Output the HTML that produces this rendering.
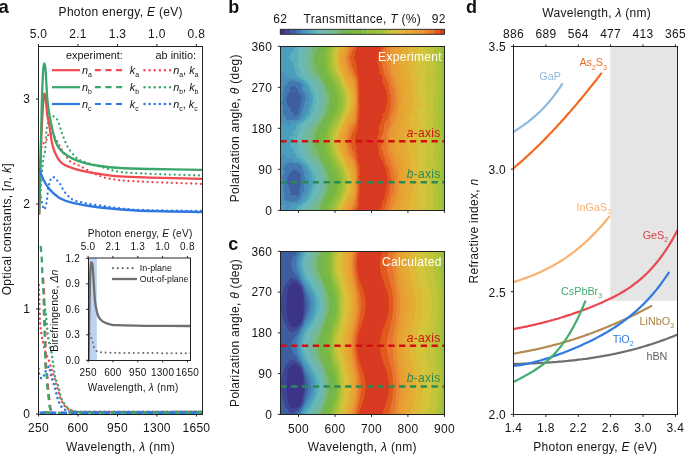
<!DOCTYPE html><html><head><meta charset="utf-8"><style>html,body{margin:0;padding:0;background:#fff;width:685px;height:455px;overflow:hidden}svg{display:block;will-change:transform}text{font-family:"Liberation Sans",sans-serif;letter-spacing:0.025em}</style></head><body>
<svg width="685" height="455" viewBox="0 0 685 455">
<rect width="685" height="455" fill="#fff"/>
<text x="-1.5" y="13.2" font-size="18.5" text-anchor="start" fill="#111" font-weight="bold" style="letter-spacing:0">a</text>
<text x="58.6" y="15.7" font-size="12" text-anchor="start" fill="#151515" font-weight="normal">Photon energy, <tspan font-style="italic">E</tspan> (eV)</text>
<text x="38.5" y="37.8" font-size="12" text-anchor="middle" fill="#151515" font-weight="normal">5.0</text>
<text x="38.5" y="431.8" font-size="12" text-anchor="middle" fill="#151515" font-weight="normal">250</text>
<line x1="38.5" y1="46.0" x2="38.5" y2="44.0" stroke="#222" stroke-width="1"/>
<line x1="38.5" y1="414.0" x2="38.5" y2="416.5" stroke="#222" stroke-width="1"/>
<text x="78.0" y="37.8" font-size="12" text-anchor="middle" fill="#151515" font-weight="normal">2.1</text>
<text x="78.0" y="431.8" font-size="12" text-anchor="middle" fill="#151515" font-weight="normal">600</text>
<line x1="78.0" y1="46.0" x2="78.0" y2="44.0" stroke="#222" stroke-width="1"/>
<line x1="78.0" y1="414.0" x2="78.0" y2="416.5" stroke="#222" stroke-width="1"/>
<text x="117.5" y="37.8" font-size="12" text-anchor="middle" fill="#151515" font-weight="normal">1.3</text>
<text x="117.5" y="431.8" font-size="12" text-anchor="middle" fill="#151515" font-weight="normal">950</text>
<line x1="117.5" y1="46.0" x2="117.5" y2="44.0" stroke="#222" stroke-width="1"/>
<line x1="117.5" y1="414.0" x2="117.5" y2="416.5" stroke="#222" stroke-width="1"/>
<text x="156.9" y="37.8" font-size="12" text-anchor="middle" fill="#151515" font-weight="normal">1.0</text>
<text x="156.9" y="431.8" font-size="12" text-anchor="middle" fill="#151515" font-weight="normal">1300</text>
<line x1="156.9" y1="46.0" x2="156.9" y2="44.0" stroke="#222" stroke-width="1"/>
<line x1="156.9" y1="414.0" x2="156.9" y2="416.5" stroke="#222" stroke-width="1"/>
<text x="196.4" y="37.8" font-size="12" text-anchor="middle" fill="#151515" font-weight="normal">0.8</text>
<text x="196.4" y="431.8" font-size="12" text-anchor="middle" fill="#151515" font-weight="normal">1650</text>
<line x1="196.4" y1="46.0" x2="196.4" y2="44.0" stroke="#222" stroke-width="1"/>
<line x1="196.4" y1="414.0" x2="196.4" y2="416.5" stroke="#222" stroke-width="1"/>
<text x="30.2" y="418.3" font-size="12" text-anchor="end" fill="#151515" font-weight="normal">0</text>
<line x1="36.0" y1="414.0" x2="38.5" y2="414.0" stroke="#222" stroke-width="1"/>
<text x="30.2" y="313.3" font-size="12" text-anchor="end" fill="#151515" font-weight="normal">1</text>
<line x1="36.0" y1="309.0" x2="38.5" y2="309.0" stroke="#222" stroke-width="1"/>
<text x="30.2" y="208.3" font-size="12" text-anchor="end" fill="#151515" font-weight="normal">2</text>
<line x1="36.0" y1="204.0" x2="38.5" y2="204.0" stroke="#222" stroke-width="1"/>
<text x="30.2" y="103.3" font-size="12" text-anchor="end" fill="#151515" font-weight="normal">3</text>
<line x1="36.0" y1="99.0" x2="38.5" y2="99.0" stroke="#222" stroke-width="1"/>
<text x="0" y="0" font-size="12" text-anchor="middle" fill="#151515" font-weight="normal" transform="translate(10.9,229.2) rotate(-90)">Optical constants, [<tspan font-style="italic">n</tspan>, <tspan font-style="italic">k</tspan>]</text>
<text x="120.5" y="451" font-size="12" text-anchor="middle" fill="#151515" font-weight="normal">Wavelength, <tspan font-style="italic">λ</tspan> (nm)</text>
<clipPath id="clipa"><rect x="38.5" y="46" width="164" height="368"/></clipPath>
<g clip-path="url(#clipa)">
<path d="M38.50,368.90 C38.58,369.62 38.60,371.67 39.00,373.20 C39.40,374.73 40.17,377.38 40.90,378.10 C41.63,378.82 42.78,378.32 43.40,377.50 C44.02,376.68 43.68,375.03 44.60,373.20 C45.52,371.37 47.98,366.80 48.90,366.50 C49.82,366.20 49.68,369.77 50.10,371.40 C50.52,373.03 50.98,374.67 51.40,376.30 C51.82,377.93 52.08,379.57 52.60,381.20 C53.12,382.83 53.98,384.45 54.50,386.10 C55.02,387.75 55.30,389.45 55.70,391.10 C56.10,392.75 56.50,394.47 56.90,396.00 C57.30,397.53 57.58,398.87 58.10,400.30 C58.62,401.73 59.28,403.37 60.00,404.60 C60.72,405.83 61.27,406.68 62.40,407.70 C63.53,408.72 65.20,409.98 66.80,410.70 C68.40,411.42 69.80,411.82 72.00,412.00 C74.20,412.18 57.00,411.83 80.00,411.80 C103.00,411.77 188.33,411.80 210.00,411.80" fill="none" stroke="#2f78e0" stroke-width="2.5" stroke-linecap="round" stroke-linejoin="round" stroke-dasharray="0.01 4.8"/>
<path d="M38.80,285.00 C38.88,287.50 39.13,294.50 39.30,300.00 C39.47,305.50 39.60,313.50 39.80,318.00 C40.00,322.50 40.22,324.33 40.50,327.00 C40.78,329.67 41.17,331.83 41.50,334.00 C41.83,336.17 42.17,338.33 42.50,340.00 C42.83,341.67 43.08,342.17 43.50,344.00 C43.92,345.83 44.42,349.00 45.00,351.00 C45.58,353.00 46.25,354.17 47.00,356.00 C47.75,357.83 48.83,360.00 49.50,362.00 C50.17,364.00 50.48,366.33 51.00,368.00 C51.52,369.67 52.10,370.50 52.60,372.00 C53.10,373.50 53.52,375.33 54.00,377.00 C54.48,378.67 55.00,380.33 55.50,382.00 C56.00,383.67 56.50,385.33 57.00,387.00 C57.50,388.67 58.00,390.33 58.50,392.00 C59.00,393.67 59.50,395.50 60.00,397.00 C60.50,398.50 60.92,399.83 61.50,401.00 C62.08,402.17 62.75,402.92 63.50,404.00 C64.25,405.08 64.92,406.50 66.00,407.50 C67.08,408.50 68.50,409.33 70.00,410.00 C71.50,410.67 73.00,411.17 75.00,411.50 C77.00,411.83 59.50,411.95 82.00,412.00 C104.50,412.05 188.67,411.83 210.00,411.80" fill="none" stroke="#ee4a50" stroke-width="2.5" stroke-linecap="round" stroke-linejoin="round" stroke-dasharray="0.01 4.8"/>
<path d="M44.00,300.00 C44.33,302.67 45.43,311.00 46.00,316.00 C46.57,321.00 47.10,326.87 47.40,330.00 C47.70,333.13 47.62,333.20 47.80,334.80 C47.98,336.40 48.22,337.98 48.50,339.60 C48.78,341.22 49.08,342.77 49.50,344.50 C49.92,346.23 50.62,348.42 51.00,350.00 C51.38,351.58 51.55,352.50 51.80,354.00 C52.05,355.50 52.27,357.33 52.50,359.00 C52.73,360.67 52.87,361.53 53.20,364.00 C53.53,366.47 54.08,371.33 54.50,373.80 C54.92,376.27 55.20,377.15 55.70,378.80 C56.20,380.45 56.98,382.07 57.50,383.70 C58.02,385.33 58.38,386.97 58.80,388.60 C59.22,390.23 59.60,391.87 60.00,393.50 C60.40,395.13 60.68,396.97 61.20,398.40 C61.72,399.83 62.48,401.07 63.10,402.10 C63.72,403.13 64.18,403.67 64.90,404.60 C65.62,405.53 66.38,406.78 67.40,407.70 C68.42,408.62 69.67,409.48 71.00,410.10 C72.33,410.72 73.65,411.08 75.40,411.40 C77.15,411.72 59.07,411.93 81.50,412.00 C103.93,412.07 188.58,411.83 210.00,411.80" fill="none" stroke="#3ba66b" stroke-width="2.5" stroke-linecap="round" stroke-linejoin="round" stroke-dasharray="0.01 4.8"/>
<clipPath id="clipka"><rect x="30" y="275" width="100" height="140"/></clipPath>
<path d="M41.30,246.00 C41.47,248.00 42.05,254.00 42.30,258.00 C42.55,262.00 42.63,266.00 42.80,270.00 C42.97,274.00 43.08,277.83 43.30,282.00 C43.52,286.17 43.88,289.50 44.10,295.00 C44.32,300.50 44.40,308.33 44.60,315.00 C44.80,321.67 45.10,328.33 45.30,335.00 C45.50,341.67 45.67,349.75 45.80,355.00 C45.93,360.25 45.85,362.95 46.10,366.50 C46.35,370.05 47.00,373.03 47.30,376.30 C47.60,379.57 47.60,382.62 47.90,386.10 C48.20,389.58 48.70,393.72 49.10,397.20 C49.50,400.68 49.78,404.60 50.30,407.00 C50.82,409.40 51.28,410.63 52.20,411.60 C53.12,412.57 29.37,412.60 55.80,412.80 C82.23,413.00 184.97,412.80 210.80,412.80" fill="none" stroke="#ee4a50" stroke-width="2.3" stroke-linecap="butt" stroke-linejoin="round" stroke-dasharray="6 4.6" clip-path="url(#clipka)"/>
<path d="M40.70,246.00 C40.87,248.00 41.45,254.00 41.70,258.00 C41.95,262.00 42.03,266.00 42.20,270.00 C42.37,274.00 42.48,277.83 42.70,282.00 C42.92,286.17 43.28,289.50 43.50,295.00 C43.72,300.50 43.80,308.33 44.00,315.00 C44.20,321.67 44.50,328.33 44.70,335.00 C44.90,341.67 45.07,349.75 45.20,355.00 C45.33,360.25 45.25,362.95 45.50,366.50 C45.75,370.05 46.40,373.03 46.70,376.30 C47.00,379.57 47.00,382.62 47.30,386.10 C47.60,389.58 48.10,393.72 48.50,397.20 C48.90,400.68 49.18,404.60 49.70,407.00 C50.22,409.40 50.68,410.63 51.60,411.60 C52.52,412.57 28.77,412.60 55.20,412.80 C81.63,413.00 184.37,412.80 210.20,412.80" fill="none" stroke="#3ba66b" stroke-width="2.3" stroke-linecap="butt" stroke-linejoin="round" stroke-dasharray="6 4.6"/>
<path d="M38.50,412.80 L210.00,412.80" fill="none" stroke="#2f78e0" stroke-width="2.4" stroke-linecap="butt" stroke-linejoin="round" stroke-dasharray="6 4.8" stroke-dashoffset="-1"/>
<path d="M38.60,214.00 C38.83,211.67 39.52,205.67 40.00,200.00 C40.48,194.33 40.92,187.00 41.50,180.00 C42.08,173.00 42.88,163.00 43.50,158.00 C44.12,153.00 44.75,154.17 45.20,150.00 C45.65,145.83 45.82,137.17 46.20,133.00 C46.58,128.83 46.87,127.50 47.50,125.00 C48.13,122.50 48.98,119.42 50.00,118.00 C51.02,116.58 52.30,116.08 53.60,116.50 C54.90,116.92 56.60,118.32 57.80,120.50 C59.00,122.68 59.77,126.58 60.80,129.60 C61.83,132.62 62.77,135.57 64.00,138.60 C65.23,141.63 66.42,144.90 68.20,147.80 C69.98,150.70 72.40,153.80 74.70,156.00 C77.00,158.20 77.78,159.25 82.00,161.00 C86.22,162.75 93.67,164.70 100.00,166.50 C106.33,168.30 111.67,170.58 120.00,171.80 C128.33,173.02 136.33,173.18 150.00,173.80 C163.67,174.42 193.33,175.22 202.00,175.50" fill="none" stroke="#3ba66b" stroke-width="2.3" stroke-linecap="round" stroke-linejoin="round" stroke-dasharray="0.01 4.8"/>
<path d="M38.60,205.00 C38.83,199.17 39.52,179.50 40.00,170.00 C40.48,160.50 40.88,152.50 41.50,148.00 C42.12,143.50 42.95,144.17 43.70,143.00 C44.45,141.83 45.08,142.67 46.00,141.00 C46.92,139.33 48.20,134.17 49.20,133.00 C50.20,131.83 51.12,133.33 52.00,134.00 C52.88,134.67 53.63,135.75 54.50,137.00 C55.37,138.25 56.28,139.92 57.20,141.50 C58.12,143.08 59.12,144.92 60.00,146.50 C60.88,148.08 61.50,149.42 62.50,151.00 C63.50,152.58 64.58,154.17 66.00,156.00 C67.42,157.83 68.67,160.33 71.00,162.00 C73.33,163.67 75.17,163.67 80.00,166.00 C84.83,168.33 93.33,173.63 100.00,176.00 C106.67,178.37 111.67,179.20 120.00,180.20 C128.33,181.20 136.33,181.38 150.00,182.00 C163.67,182.62 193.33,183.58 202.00,183.90" fill="none" stroke="#ee4a50" stroke-width="2.3" stroke-linecap="round" stroke-linejoin="round" stroke-dasharray="0.01 4.8"/>
<path d="M38.80,188.00 C39.10,189.25 40.02,192.83 40.60,195.50 C41.18,198.17 41.70,201.67 42.30,204.00 C42.90,206.33 43.58,209.37 44.20,209.50 C44.82,209.63 45.53,206.38 46.00,204.80 C46.47,203.22 46.70,202.13 47.00,200.00 C47.30,197.87 47.50,194.33 47.80,192.00 C48.10,189.67 48.43,187.83 48.80,186.00 C49.17,184.17 49.42,182.50 50.00,181.00 C50.58,179.50 51.47,177.47 52.30,177.00 C53.13,176.53 54.22,177.65 55.00,178.20 C55.78,178.75 56.17,179.42 57.00,180.30 C57.83,181.18 59.08,182.13 60.00,183.50 C60.92,184.87 61.62,186.95 62.50,188.50 C63.38,190.05 64.22,191.42 65.30,192.80 C66.38,194.18 67.78,195.68 69.00,196.80 C70.22,197.92 70.77,198.63 72.60,199.50 C74.43,200.37 75.43,201.00 80.00,202.00 C84.57,203.00 90.67,204.22 100.00,205.50 C109.33,206.78 119.00,208.78 136.00,209.70 C153.00,210.62 191.00,210.78 202.00,211.00" fill="none" stroke="#2f78e0" stroke-width="2.3" stroke-linecap="round" stroke-linejoin="round" stroke-dasharray="0.01 4.8"/>
<path d="M39.20,214.50 C39.38,207.08 39.97,182.42 40.30,170.00 C40.63,157.58 40.82,149.67 41.20,140.00 C41.58,130.33 42.22,118.83 42.60,112.00 C42.98,105.17 43.18,102.08 43.50,99.00 C43.82,95.92 44.13,93.50 44.50,93.50 C44.87,93.50 45.23,95.42 45.70,99.00 C46.17,102.58 46.70,110.67 47.30,115.00 C47.90,119.33 48.53,120.40 49.30,125.00 C50.07,129.60 51.03,138.20 51.90,142.60 C52.77,147.00 53.32,148.50 54.50,151.40 C55.68,154.30 57.30,157.73 59.00,160.00 C60.70,162.27 61.20,163.28 64.70,165.00 C68.20,166.72 74.12,168.80 80.00,170.30 C85.88,171.80 93.33,172.98 100.00,174.00 C106.67,175.02 111.67,175.80 120.00,176.40 C128.33,177.00 136.33,177.18 150.00,177.60 C163.67,178.02 193.33,178.68 202.00,178.90" fill="none" stroke="#ee4a50" stroke-width="2.3" stroke-linecap="butt" stroke-linejoin="round"/>
<path d="M39.20,214.50 C39.38,207.08 40.00,182.42 40.30,170.00 C40.60,157.58 40.73,151.67 41.00,140.00 C41.27,128.33 41.53,111.67 41.90,100.00 C42.27,88.33 42.78,76.08 43.20,70.00 C43.62,63.92 44.00,63.50 44.40,63.50 C44.80,63.50 45.10,63.92 45.60,70.00 C46.10,76.08 46.70,92.17 47.40,100.00 C48.10,107.83 48.95,112.00 49.80,117.00 C50.65,122.00 51.57,126.00 52.50,130.00 C53.43,134.00 54.32,138.00 55.40,141.00 C56.48,144.00 57.73,146.08 59.00,148.00 C60.27,149.92 60.82,150.77 63.00,152.50 C65.18,154.23 68.60,156.68 72.10,158.40 C75.60,160.12 79.35,161.53 84.00,162.80 C88.65,164.07 94.00,165.13 100.00,166.00 C106.00,166.87 111.67,167.50 120.00,168.00 C128.33,168.50 136.33,168.68 150.00,169.00 C163.67,169.32 193.33,169.75 202.00,169.90" fill="none" stroke="#3ba66b" stroke-width="2.3" stroke-linecap="butt" stroke-linejoin="round"/>
<path d="M38.60,168.50 C38.72,168.65 38.60,167.78 39.30,169.40 C40.00,171.02 41.48,175.42 42.80,178.20 C44.12,180.98 45.73,183.90 47.20,186.10 C48.67,188.30 49.40,189.35 51.60,191.40 C53.80,193.45 56.88,196.50 60.40,198.40 C63.92,200.30 66.10,201.28 72.70,202.80 C79.30,204.32 89.45,206.22 100.00,207.50 C110.55,208.78 119.00,209.75 136.00,210.50 C153.00,211.25 191.00,211.75 202.00,212.00" fill="none" stroke="#2f78e0" stroke-width="2.3" stroke-linecap="butt" stroke-linejoin="round"/>
</g>
<rect x="38.5" y="46.5" width="164" height="368" fill="none" stroke="#222" stroke-width="1"/>
<line x1="52" y1="70.2" x2="80" y2="70.2" stroke="#ee4a50" stroke-width="2.2"/>
<line x1="94.9" y1="70.2" x2="122.5" y2="70.2" stroke="#ee4a50" stroke-width="2.2" stroke-dasharray="6 4.6"/>
<line x1="144.5" y1="70.2" x2="170.6" y2="70.2" stroke="#ee4a50" stroke-width="2.5" stroke-dasharray="0.01 5.1" stroke-linecap="round"/>
<text x="82" y="73.8" font-size="10.9" text-anchor="start" fill="#151515" font-weight="normal" style="letter-spacing:0"><tspan font-style="italic">n</tspan><tspan font-size="6.9" dy="3">a</tspan></text>
<text x="129.7" y="73.8" font-size="10.9" text-anchor="start" fill="#151515" font-weight="normal" style="letter-spacing:0"><tspan font-style="italic">k</tspan><tspan font-size="6.9" dy="3">a</tspan></text>
<text x="173.2" y="73.8" font-size="10.9" text-anchor="start" fill="#151515" font-weight="normal" style="letter-spacing:0"><tspan font-style="italic">n</tspan><tspan font-size="6.9" dy="3">a</tspan><tspan dy="-3">, </tspan><tspan font-style="italic">k</tspan><tspan font-size="6.9" dy="3">a</tspan></text>
<line x1="52" y1="87.2" x2="80" y2="87.2" stroke="#3ba66b" stroke-width="2.2"/>
<line x1="94.9" y1="87.2" x2="122.5" y2="87.2" stroke="#3ba66b" stroke-width="2.2" stroke-dasharray="6 4.6"/>
<line x1="144.5" y1="87.2" x2="170.6" y2="87.2" stroke="#3ba66b" stroke-width="2.5" stroke-dasharray="0.01 5.1" stroke-linecap="round"/>
<text x="82" y="90.8" font-size="10.9" text-anchor="start" fill="#151515" font-weight="normal" style="letter-spacing:0"><tspan font-style="italic">n</tspan><tspan font-size="6.9" dy="3">b</tspan></text>
<text x="129.7" y="90.8" font-size="10.9" text-anchor="start" fill="#151515" font-weight="normal" style="letter-spacing:0"><tspan font-style="italic">k</tspan><tspan font-size="6.9" dy="3">b</tspan></text>
<text x="173.2" y="90.8" font-size="10.9" text-anchor="start" fill="#151515" font-weight="normal" style="letter-spacing:0"><tspan font-style="italic">n</tspan><tspan font-size="6.9" dy="3">b</tspan><tspan dy="-3">, </tspan><tspan font-style="italic">k</tspan><tspan font-size="6.9" dy="3">b</tspan></text>
<line x1="52" y1="104" x2="80" y2="104" stroke="#2f78e0" stroke-width="2.2"/>
<line x1="94.9" y1="104" x2="122.5" y2="104" stroke="#2f78e0" stroke-width="2.2" stroke-dasharray="6 4.6"/>
<line x1="144.5" y1="104" x2="170.6" y2="104" stroke="#2f78e0" stroke-width="2.5" stroke-dasharray="0.01 5.1" stroke-linecap="round"/>
<text x="82" y="107.6" font-size="10.9" text-anchor="start" fill="#151515" font-weight="normal" style="letter-spacing:0"><tspan font-style="italic">n</tspan><tspan font-size="6.9" dy="3">c</tspan></text>
<text x="129.7" y="107.6" font-size="10.9" text-anchor="start" fill="#151515" font-weight="normal" style="letter-spacing:0"><tspan font-style="italic">k</tspan><tspan font-size="6.9" dy="3">c</tspan></text>
<text x="173.2" y="107.6" font-size="10.9" text-anchor="start" fill="#151515" font-weight="normal" style="letter-spacing:0"><tspan font-style="italic">n</tspan><tspan font-size="6.9" dy="3">c</tspan><tspan dy="-3">, </tspan><tspan font-style="italic">k</tspan><tspan font-size="6.9" dy="3">c</tspan></text>
<text x="66" y="59.4" font-size="10.9" text-anchor="start" fill="#151515" font-weight="normal" style="letter-spacing:0">experiment:</text>
<text x="155.5" y="59.4" font-size="10.9" text-anchor="start" fill="#151515" font-weight="normal" style="letter-spacing:0">ab initio:</text>
<rect x="88.1" y="257.9" width="102.20000000000002" height="102.40000000000003" fill="#fff"/>
<rect x="88.1" y="257.9" width="8.7" height="102.40000000000003" fill="#bcd3f2"/>
<text x="87.8" y="236.7" font-size="10.15" text-anchor="start" fill="#151515" font-weight="normal">Photon energy, <tspan font-style="italic">E</tspan> (eV)</text>
<text x="88.1" y="250.1" font-size="10" text-anchor="middle" fill="#151515" font-weight="normal">5.0</text>
<text x="88.1" y="376.2" font-size="10" text-anchor="middle" fill="#151515" font-weight="normal">250</text>
<line x1="88.1" y1="257.9" x2="88.1" y2="255.89999999999998" stroke="#222" stroke-width="1"/>
<line x1="88.1" y1="360.3" x2="88.1" y2="362.3" stroke="#222" stroke-width="1"/>
<text x="112.9" y="250.1" font-size="10" text-anchor="middle" fill="#151515" font-weight="normal">2.1</text>
<text x="112.9" y="376.2" font-size="10" text-anchor="middle" fill="#151515" font-weight="normal">600</text>
<line x1="112.9" y1="257.9" x2="112.9" y2="255.89999999999998" stroke="#222" stroke-width="1"/>
<line x1="112.9" y1="360.3" x2="112.9" y2="362.3" stroke="#222" stroke-width="1"/>
<text x="137.8" y="250.1" font-size="10" text-anchor="middle" fill="#151515" font-weight="normal">1.3</text>
<text x="137.8" y="376.2" font-size="10" text-anchor="middle" fill="#151515" font-weight="normal">950</text>
<line x1="137.8" y1="257.9" x2="137.8" y2="255.89999999999998" stroke="#222" stroke-width="1"/>
<line x1="137.8" y1="360.3" x2="137.8" y2="362.3" stroke="#222" stroke-width="1"/>
<text x="162.6" y="250.1" font-size="10" text-anchor="middle" fill="#151515" font-weight="normal">1.0</text>
<text x="162.6" y="376.2" font-size="10" text-anchor="middle" fill="#151515" font-weight="normal">1300</text>
<line x1="162.6" y1="257.9" x2="162.6" y2="255.89999999999998" stroke="#222" stroke-width="1"/>
<line x1="162.6" y1="360.3" x2="162.6" y2="362.3" stroke="#222" stroke-width="1"/>
<text x="187.4" y="250.1" font-size="10" text-anchor="middle" fill="#151515" font-weight="normal">0.8</text>
<text x="187.4" y="376.2" font-size="10" text-anchor="middle" fill="#151515" font-weight="normal">1650</text>
<line x1="187.4" y1="257.9" x2="187.4" y2="255.89999999999998" stroke="#222" stroke-width="1"/>
<line x1="187.4" y1="360.3" x2="187.4" y2="362.3" stroke="#222" stroke-width="1"/>
<text x="80.2" y="363.9" font-size="10" text-anchor="end" fill="#151515" font-weight="normal">0.0</text>
<line x1="86.1" y1="360.3" x2="88.1" y2="360.3" stroke="#222" stroke-width="1"/>
<text x="80.2" y="338.4" font-size="10" text-anchor="end" fill="#151515" font-weight="normal">0.3</text>
<line x1="86.1" y1="334.8" x2="88.1" y2="334.8" stroke="#222" stroke-width="1"/>
<text x="80.2" y="312.9" font-size="10" text-anchor="end" fill="#151515" font-weight="normal">0.6</text>
<line x1="86.1" y1="309.3" x2="88.1" y2="309.3" stroke="#222" stroke-width="1"/>
<text x="80.2" y="287.4" font-size="10" text-anchor="end" fill="#151515" font-weight="normal">0.9</text>
<line x1="86.1" y1="283.8" x2="88.1" y2="283.8" stroke="#222" stroke-width="1"/>
<text x="80.2" y="261.9" font-size="10" text-anchor="end" fill="#151515" font-weight="normal">1.2</text>
<line x1="86.1" y1="258.3" x2="88.1" y2="258.3" stroke="#222" stroke-width="1"/>
<text x="0" y="0" font-size="10.5" text-anchor="middle" fill="#151515" font-weight="normal" transform="translate(57.9,310.6) rotate(-90)" style="letter-spacing:0.1px">Birefringence, <tspan font-style="italic">Δn</tspan></text>
<text x="133.2" y="391" font-size="10" text-anchor="middle" fill="#151515" font-weight="normal">Wavelength, <tspan font-style="italic">λ</tspan> (nm)</text>
<clipPath id="clipi"><rect x="88.1" y="257.9" width="102.2" height="102.4"/></clipPath>
<g clip-path="url(#clipi)">
<path d="M88.60,360.00 C88.63,357.50 88.73,349.50 88.80,345.00 C88.87,340.50 88.63,334.33 89.00,333.00 C89.37,331.67 90.42,335.50 91.00,337.00 C91.58,338.50 92.00,340.33 92.50,342.00 C93.00,343.67 93.42,345.58 94.00,347.00 C94.58,348.42 95.33,349.73 96.00,350.50 C96.67,351.27 97.17,351.32 98.00,351.60 C98.83,351.88 99.50,352.03 101.00,352.20 C102.50,352.37 102.17,352.47 107.00,352.60 C111.83,352.73 116.00,352.90 130.00,353.00 C144.00,353.10 180.83,353.17 191.00,353.20" fill="none" stroke="#6f6f6f" stroke-width="2.0" stroke-linecap="round" stroke-linejoin="round" stroke-dasharray="0.1 4.6"/>
<path d="M88.60,360.00 C88.70,353.33 88.97,333.33 89.20,320.00 C89.43,306.67 89.73,289.17 90.00,280.00 C90.27,270.83 90.52,267.92 90.80,265.00 C91.08,262.08 91.40,262.33 91.70,262.50 C92.00,262.67 92.28,263.08 92.60,266.00 C92.92,268.92 93.22,274.33 93.60,280.00 C93.98,285.67 94.42,295.00 94.90,300.00 C95.38,305.00 95.95,307.33 96.50,310.00 C97.05,312.67 97.45,314.33 98.20,316.00 C98.95,317.67 99.90,318.92 101.00,320.00 C102.10,321.08 103.30,321.78 104.80,322.50 C106.30,323.22 107.80,323.85 110.00,324.30 C112.20,324.75 112.17,324.95 118.00,325.20 C123.83,325.45 132.83,325.67 145.00,325.80 C157.17,325.93 183.33,325.97 191.00,326.00" fill="none" stroke="#6f6f6f" stroke-width="2.3" stroke-linecap="butt" stroke-linejoin="round"/>
</g>
<rect x="88.5" y="258" width="102" height="102.5" fill="none" stroke="#222" stroke-width="1"/>
<line x1="112.9" y1="268.2" x2="133.2" y2="268.2" stroke="#6f6f6f" stroke-width="2.2" stroke-dasharray="0.01 4.92" stroke-linecap="round"/>
<line x1="112" y1="279" x2="137" y2="279" stroke="#6f6f6f" stroke-width="2.3"/>
<text x="139.8" y="271.1" font-size="8.9" text-anchor="start" fill="#151515" font-weight="normal" style="letter-spacing:0">In-plane</text>
<text x="139.8" y="282.3" font-size="8.75" text-anchor="start" fill="#151515" font-weight="normal" style="letter-spacing:0">Out-of-plane</text>
<text x="228.3" y="12.8" font-size="18" text-anchor="start" fill="#111" font-weight="bold" style="letter-spacing:0">b</text>
<text x="228.3" y="250.4" font-size="18" text-anchor="start" fill="#111" font-weight="bold" style="letter-spacing:0">c</text>
<text x="280.3" y="22.6" font-size="12" text-anchor="middle" fill="#151515" font-weight="normal">62</text>
<text x="438.8" y="22.6" font-size="12" text-anchor="middle" fill="#151515" font-weight="normal">92</text>
<text x="362.3" y="22.6" font-size="12" text-anchor="middle" fill="#151515" font-weight="normal">Transmittance, <tspan font-style="italic">T</tspan> (%)</text>
<rect x="280.30" y="29.3" width="5.42" height="4.9999999999999964" fill="#3c3488"/>
<rect x="285.43" y="29.3" width="5.42" height="4.9999999999999964" fill="#3e4694"/>
<rect x="290.55" y="29.3" width="5.42" height="4.9999999999999964" fill="#3f5ea0"/>
<rect x="295.68" y="29.3" width="5.42" height="4.9999999999999964" fill="#4278b0"/>
<rect x="300.80" y="29.3" width="5.42" height="4.9999999999999964" fill="#4a90b8"/>
<rect x="305.93" y="29.3" width="5.42" height="4.9999999999999964" fill="#4aa0bc"/>
<rect x="311.05" y="29.3" width="5.42" height="4.9999999999999964" fill="#5ab0bc"/>
<rect x="316.18" y="29.3" width="5.42" height="4.9999999999999964" fill="#6cbab8"/>
<rect x="321.30" y="29.3" width="5.42" height="4.9999999999999964" fill="#6cb8b0"/>
<rect x="326.43" y="29.3" width="5.42" height="4.9999999999999964" fill="#72b8a0"/>
<rect x="331.55" y="29.3" width="5.42" height="4.9999999999999964" fill="#76b890"/>
<rect x="336.68" y="29.3" width="5.42" height="4.9999999999999964" fill="#78b870"/>
<rect x="341.80" y="29.3" width="5.42" height="4.9999999999999964" fill="#74b450"/>
<rect x="346.93" y="29.3" width="5.42" height="4.9999999999999964" fill="#72b84a"/>
<rect x="352.05" y="29.3" width="5.42" height="4.9999999999999964" fill="#78b844"/>
<rect x="357.18" y="29.3" width="5.42" height="4.9999999999999964" fill="#7cb840"/>
<rect x="362.30" y="29.3" width="5.42" height="4.9999999999999964" fill="#8abc3e"/>
<rect x="367.43" y="29.3" width="5.42" height="4.9999999999999964" fill="#90bd3e"/>
<rect x="372.55" y="29.3" width="5.42" height="4.9999999999999964" fill="#98c03e"/>
<rect x="377.68" y="29.3" width="5.42" height="4.9999999999999964" fill="#a4c23a"/>
<rect x="382.80" y="29.3" width="5.42" height="4.9999999999999964" fill="#b4c238"/>
<rect x="387.93" y="29.3" width="5.42" height="4.9999999999999964" fill="#c4c43a"/>
<rect x="393.05" y="29.3" width="5.42" height="4.9999999999999964" fill="#d4c43a"/>
<rect x="398.18" y="29.3" width="5.42" height="4.9999999999999964" fill="#e0b838"/>
<rect x="403.30" y="29.3" width="5.42" height="4.9999999999999964" fill="#e4ac34"/>
<rect x="408.43" y="29.3" width="5.42" height="4.9999999999999964" fill="#e6a834"/>
<rect x="413.55" y="29.3" width="5.42" height="4.9999999999999964" fill="#e8a030"/>
<rect x="418.68" y="29.3" width="5.42" height="4.9999999999999964" fill="#e89a34"/>
<rect x="423.80" y="29.3" width="5.42" height="4.9999999999999964" fill="#e88a30"/>
<rect x="428.93" y="29.3" width="5.42" height="4.9999999999999964" fill="#e87430"/>
<rect x="434.05" y="29.3" width="5.42" height="4.9999999999999964" fill="#e05a1c"/>
<rect x="439.18" y="29.3" width="5.42" height="4.9999999999999964" fill="#d83a22"/>
<rect x="280.3" y="29.3" width="164.1" height="4.9999999999999964" fill="none" stroke="#222" stroke-width="0.9"/>
<clipPath id="clipb"><rect x="280.3" y="46.3" width="164.1" height="164.0"/></clipPath>
<g clip-path="url(#clipb)">
<rect x="280.3" y="46.3" width="164.09999999999997" height="164.0" fill="#3c3488"/>
<path fill-rule="evenodd" fill="#3e4694" d="M280.3 44.1l166.3 0 0 168.4-168.5 0 0-168.4 2.2 0z"/>
<path fill-rule="evenodd" fill="#3f5ea0" d="M280.3 44.1l166.3 0 0 168.4-168.5 0 0-168.4 2.2 0z"/>
<path fill-rule="evenodd" fill="#4278b0" d="M280.3 44.1l166.3 0 0 168.4-168.5 0 0-168.4 2.2 0zM291.8 86.2l-1.9 2.2 0.6 2.2-1 2.2-2.1 2.3-1.5 4.4 1.3 2.2-0.2 2.2 2.2 3.8 2.4 0.7-1.6 2.2 1.4 1.9 2.2-1.7 0.9 2-1.7 2.2 0.8 0.3 2.3-0.3 2.2-1.2 0.7-1 0.6-2.2-0.1-2.2 1.3-2.3-0.6-2.2 1.7-4.4-0.6-2.2 0.2-2.2-3.9-4.5 0-2.2-3.8-2.7-1.8 0.5zM292.6 170.4l-1.2 0.9-2.5 3.5-1.9 4.5 0.4 2.2-0.7 2.2 2.4 2.2 1.4 4.4 0.5 2.3-1.5 2.2 1.9 0.8 2.2-1 4.5 1.4 1.1-1.2-0.3-4.5 1.5-2.2-0.2-2.2 0.9-4.4-1-2.2 0.8-2.3-0.2-2.2-2.6-3.5-2.3-1.4-2.2-0.9-1 1.4zM293.6 89l1.1 1.6-1.1 0.6-1.3-0.6 1.3-1.6z"/>
<path fill-rule="evenodd" fill="#4a90b8" d="M280.3 44.1l166.3 0 0 168.4-168.5 0 0-168.4 2.2 0zM288.3 81.8l-1.3 3.1-2.2 0.5-0.7 0.8-0.6 2.2 0.3 2.2-1.2 4.5 0.5 2.2-0.2 2.2-1.2 2.2-0.1 2.2 1.7 2.2-0.7 6.7 3.2 4.4 1.2 3 6.6-0.4 2.2 0.5 2.6-0.9 1.4-2.2 2.1-4.4 1.1-4.4 1.5-2.3-0.7-2.2 1.9-4.4-0.5-4.4-3.7-6.7 1.2-2.2-0.2-0.6-2.2-2.7-2.2-1.1-2.3 0-4.4-1.3-3.1 1.3zM287.3 163.8l-0.3 0.5-2.2 0.4-1.5 3.5 1.2 2.2-0.2 2.2-0.7 2.2-1.8 2.2 1.7 4.5-1 1.9-0.6 0.3 0.6 0.4 0.7 1.8 0.4 2.2-0.3 2.2 1.2 6.7-0.2 2.2 2.7 2.3 2.2-0.4 2.2 0.7 4.6-0.4 4.3-2.7 1.7-3.9 0-2.2 2.6-2.3-1.1-2.2 1.5-6.6 0.1-2.2-1.5-4.5 0.1-2.2-1.2-2.2-0.8-4.4-2.2-2.2-1.4-0.6-4.5 0.2-2.2-0.8-2.2 0.1-1.9 1.1z"/>
<path fill-rule="evenodd" fill="#4aa0bc" d="M280.3 45.8l2.2 1-0.6-2.7 164.7 0 0 168.4-168.5 0 0-7.3 4.4-0.8 2.3 0.4 2 1.1-3.6 2.2 3.8 2.1 2.6-2.1 3.6-4.5 2.6-0.7 4.5-0.2 1.7-1.3 0.5-1.3 4.2-5.3 1.8-4.5 0.9-4.4-0.6-4.4 0.5-2.2-2.6-2.3 1.3-4.4-1.8-2.2-1.1-4.4-2.4-2.2-4.6-2.1-2.3-0.2-2.2-1.2-2.2-2.2-6.6-0.7 1.3-2.5-1.3-1.6-3.5 3.8-1 2.2-2.2 1 0-37.9 2.2-1.1 0.9 0.4-1.5 2.2 0.6 0.3 2.2 0.2 2.3-1.3 1.8 0.8 0.8 2.2 1.8 1.1 0.6-1.1 0.1-2.2 3.7-1.4 2.2 0 6.4-3.1 0.6-2.2 4.4-6.6 1.6-4.5-0.3-2.2 1.4-4.4-0.8-2.2 0.6-2.2-0.6-1.8-2.5-2.7-1-4.4-3.1-4.4-4.4-2.4-2.3-0.1-4.4-1.5-2.2 0-1-0.5-3.8-2.2 0.9-2.2-0.5-0.7-2.7 0.7-0.5 2.2-3.5 3.5 0-34.5 1.5 0 0.7 1.7zM279.9 208.1l0.4 0.4 1.1-0.4-1.1-1.2-0.4 1.2zM279.1 201.4l-1 1 0-1.8 1 0.8zM289.2 203.5l0.8 0.1-0.8 1.6-0.7-1.6 0.7-0.1z"/>
<path fill-rule="evenodd" fill="#5ab0bc" d="M298.1 44.1l148.5 0 0 168.4-152.6 0 4.1-6.4 2.2-1 2.2-2.3 3-1.4 3.1-4.4 1.6-4.4 1.4-2.3-0.1-2.2 1-2.2 0.3-6.6-1-2.3-0.4-4.4-3.1-4.4-0.3-2.2-1.1-0.6-2.2-3.1-2.3-0.8-2.1-2.2-4.4-2.2 0.1-2.2-1.7-2.2-0.4-4.5-2.5-0.4-1.5-4 2.3-2.2 0.5-2.2-1.3-1.7-2.3-0.5 0.1-0.4 4.4-1.1 0.4-0.8-0.4-0.5-2-1.7 2-0.7 1.7-1.5 0.9-2.2-0.8-2.2 2.7-1.6 2.2-2.6 2.2-0.4 2.5-2.1 1.9-2.9 2.2-1.1 1.5-7 2.5-6.7 0-2.2-1.4-6.7-1.6-2.2-0.1-2.2-1.6-2.2-0.4-2.2-1.1-1.2-8-5.5-2.3-2.2-3.5-11.1 0.7-2.2-0.2-0.4-2.2 0-3.1-4 3.3-4.4 2.4-2.3 0.2-2.2 1.6-2.2 0.5-2.2 1.8 0z"/>
<path fill-rule="evenodd" fill="#6cbab8" d="M302.5 44.1l144.1 0 0 168.4-146.8 0 1.5-4.4 1.2-1.9 2.3-2.6 3.9-2.2 2.7-4.1 3.5-9.2 2-2.2-0.7-2.2 0.3-2.2-0.7-5.5-1.8-3.4-0.3-2.2-2.6-2.2-0.4-2.2-1.6-2.4-7.4-6.5-0.5-2.2-1.5-2.2 0.2-2.2-2.2-2.3 0.4-1.5 2.2-0.8-2.2-0.4-0.1-3.9-1.7-2.2 2.3-4.5-0.2-2.2 1.9-1.3 0.3-0.9 0-4.4 4.2-4.4 4.3-2.7 1.4-1.8 0.9-2.8 2.8-3.8-0.2-2.2 0.5-2.3 2-2.2 0.4-2.2-2.4-6.6 0.5-2.3-2.2-2.2-0.2-2.2-0.9-2.2-2.6-4.1-3.4-2.5-4-4.5-1.5-4.4 0.1-2.2-2.2-1.4-0.4-0.8 0.2-6.7 0.9-2.2-0.9-4.4 1.1-2.3 0.1-2.2 1.2-1.1 1.5-3.3 0.7 0z"/>
<path fill-rule="evenodd" fill="#6cb8b0" d="M306.9 44.1l139.7 0 0 168.4-143.1 0 1-4.4 2.4-3.5 6.7-5 1.1-2.6 3.3-4.4 1.5-6.7-0.7-2.2 0.7-2.2-1.5-2.2-0.3-4.5-1.9-5.4-1.7-3.4-2.7-2.2-6.7-7.3-1.7-3.8 0-4.5-0.8-2.2-0.6-4.4 0.6-2.2-0.5-2.2 2-8.9 1-2.2 2.2-3.4 4.5-3.1 5.9-9 0.9-2.2-0.1-2.3 1.2-2.2 0.2-2.2-1.3-4.4 0.6-4.5-0.8-1.5-2.2-0.7-0.6-4.4-1.6-2.2-2.2-1.5-4.6-5.2-2.6-4.4-0.9-4.4-1.6-4.5 0.8-8.8-0.4-4.5 0.4-2.1 2.2-0.8 1-3.7 1.2 0z"/>
<path fill-rule="evenodd" fill="#72b8a0" d="M309.1 44.3l137.5-0.2 0 168.4-139.5 0 0.6-4.4 6.8-6.7 4.4-6.6 2.3-6.7 0.7-6.6-1.2-8.9-2-2.2 0-2.2-7.9-8.9-1.2-2.2-2.3-2.2-3.3-11.1 1.6-4.4-0.6-2.2-0.1-2.3 0.7-4.4 1.3-3.3 0.5-1.1 4-3.1 6.6-8 2.1-4.4 1.2-4.5 1.2-2.2-1-4.4 0.3-2.2-0.6-4.5-1.5-2.2-2.5-6.6-1.7-2.2-4.1-2-2.8-4.7-1.8-2.2-0.8-2.2 0.2-4.4-1.4-4.5 0.4-4.4-0.5-2.2 2.2-7.8 2.2-3.1z"/>
<path fill-rule="evenodd" fill="#76b890" d="M311.4 45.4l0.8-1.3 134.4 0 0 168.4-137 0 1.8-3.8 2.2-2.1 1.5-3 4.6-4.4 1.2-4.4 2.3-4.5 0.9-11-1.7-8.9-5.3-8.9-3.5-3-2.9-3.6-2.2-4.4-1.4-6.7 1.3-2.2-0.8-6.7 2.1-4.4 0.4-2.2 1.7-2.2 1.8-1 4.9-5.7 0.5-2.2 1.7-2.2 1.7-4.2 1.7-6.9 0.2-6.6-3.9-13.3-2.4-3.5-4.3-3.2-2.3-4.7-2.4-1.9 0.2-2.2-1.2-4.5 0-4.4-0.4-2.2 0.2-2.2 1.1-2.2 0.9-4.5 1.6-3.1z"/>
<path fill-rule="evenodd" fill="#78b870" d="M315.8 45.5l0.4-1.4 130.4 0 0 168.4-133.7 0 3.8-4.4 0.9-2.2 2.6-3.2 1.7-3.5 1.2-4.4 3.2-6.7 0.3-6.6-0.4-4.5-1.2-2.2-0.3-4.4-1.6-2.2-2.9-6.7-1.4-2.2-2.5-2.2-0.5-1-2.3-1.2-1-4.4-1.6-2.3 0.3-4.4-0.4-4.4 0.4-4.5 8.2-13.2 1.9-4.5 2.9-4.4 0.5-3.8 2-5.1 0.5-6.6-2.6-6.7-0.3-2.2-4.1-8.8-2.2-3.1-2.1-1.4-0.7-2.2-1.6-0.9-0.8-1.3-0.3-2.2-1.5-2.2-0.5-6.7 1.8-6.6-0.4-2.3 1.7-3.6 2.2-1.6z"/>
<path fill-rule="evenodd" fill="#74b450" d="M320.2 44.1l126.4 0 0 168.4-129.3 0 2.2-2.2 0.3-2.2 8.8-20 0-2.2 1.1-2.2 0.6-4.4-2.5-4.5-0.3-2.2-3.4-6.6-1.6-4.5-2.9-4.4-3.3-8.9-2.3-2.2 0.1-2.2 0.8-2.2-0.4-2.2 0.8-2.2 0.1-4.5 1.9-2.2 0.7-2.2 7.9-13.3 3.3-8.9-0.2-4.4 0.9-4.4-0.7-4.5-1.8-2.2-2.2-4.4-0.2-2.2-1.9-2.2-4.2-8.9-3.3-4.4 0.2-4.5-2.3-2.2 0.1-2.2 0.9-2.2-0.1-2.2 1.5-2.2 0.6-4.5 2.4-2.2 0.6-2.2 0.7 0z"/>
<path fill-rule="evenodd" fill="#72b84a" d="M322.4 44.1l124.2 0 0 168.4-127 0 1.9-2.2 3.4-8.9 2-3.1 3.7-8 1.4-4.4-0.4-2.2 0.9-2.2-0.6-4.5-8.5-17.7-3.2-8.7-2.8-4.6 0.7-2.2 0.3-8.9 1.8-3.4 2.8-7.6 3.9-6 4.9-11.8 0-11-4.4-8.9-0.5-3.2-2.2-2.8-2.3-4-1.2-3.3-0.8-4.4-1.6-2.2-1.4-4.5 0.5-6.6 3-8.9 1-2.2 0.5 0z"/>
<path fill-rule="evenodd" fill="#78b844" d="M324.7 44.1l121.9 0 0 168.4-124.1 0 2.7-6.6 1.9-2.3 1.1-4.4 0.9-1.9 2.5-2.5 2.5-8.9-0.1-2.2 0.6-2.2-0.9-6.7-1.5-2.2-0.9-3.1-3.8-5.7-6.1-15.6-0.1-2.2-0.9-2.2-0.1-6.6 0.5-2.3 1.3-2.2 0.5-2.2 1.7-2.2 1.5-4.4 4.1-8.9 2.6-4.4 1.5-4.5 0.2-2.2-0.4-6.6 0.4-2.2-1.7-4.5-3.4-5.8-2.2-5.7-2.6-4-1.5-4.4 0-2.2-1.4-2.2-0.5-2.3-0.4-6.6 0.6-4.4 1.3-5.8 1.4-3.1 0.9 0z"/>
<path fill-rule="evenodd" fill="#7cb840" d="M326.9 44.1l119.7 0 0 168.4-121.4 0 0.2-2.2 1.8-4.4 2-2.3 0.9-4.4 3.1-4.4 1.7-4.5 1.4-8.8 0-2.2-1-4.5-4-8.9-2.2-2.5-2.7-8.5-2.3-4.4-0.1-2.3-1.5-6.6 0.6-6.7 2.3-4.4 5.2-13.3 4-6.6 1.4-6.7-0.1-8.8-0.5-2.3-7-13.2-1.1-4.5-2.4-4.4-2-8.9-0.1-2.2 0.5-2.2-0.7-2.2 0.4-2.2 3.3-8.9 0.6 0z"/>
<path fill-rule="evenodd" fill="#8abc3e" d="M329.1 44.1l117.5 0 0 168.4-119.7 0 0.3-2.2 1.3-2.2 0.5-2.2 4.5-7.9 1.7-3.2 0.5-2.2 1.4-2.3 1.3-6.6-1.1-8.9-4.1-8.8-5-8.9-0.9-4.4-1-2.2 0.2-2.3-1.2-2.2 0.3-4.4-0.4-2.2 0.5-4.5 1.3-2.2 0.4-4.4 8.7-17.7 2.4-6.7-0.4-2.2 0.2-4.4-1-2.2-0.1-2.3-7.9-15.5-3-8.8-0.7-4.5-0.8-2.2-0.3-2.2 0.9-2.2-0.8-4.4 2.3-3.7 1.4-5.2 0.8 0z"/>
<path fill-rule="evenodd" fill="#90bd3e" d="M329.1 46.2l0.9-2.1 116.6 0-0.5 2.2 0.5 3 0 13.4-0.4 1.3 0.4 2.8-1.2 1.7-0.1 2.2 1.3 5.3-0.4 23.5 0.4 1.7 0 19.4-0.8 3.3 0.1 2.2 0.7 1.8-0.4 22.6 0.4 24.5-0.6 2 0.6 3.1 0 11.7-0.5 3 0.5 1.4 0 16.3-118.3 0 2.6-6.6 6.4-11.1 3.2-8.9 0.1-2.2-0.4-7.3-0.6-1.6-2-2.2-1.3-4.4-4.8-8.9-1.8-2.2-2.5-11.1 0.1-8.8 1.4-6.7-0.1-2.2 6.1-11.1 1-3.4 4.2-7.7 0.5-8.8-2.4-7.1-6.8-12.9-3.4-8.8-0.8-8.9 0-4.4 2.1-9z"/>
<path fill-rule="evenodd" fill="#98c03e" d="M331.3 44.8l0.3-0.7 112.2 0 0.2 4.4-0.4 2.2 1.2 8.9-1 4.4 0.7 2.3-0.9 2.2-0.2 2.2 0.8 8.9 0 4.4-0.6 2.2 0.9 6.6-0.9 2.3 0.3 6.6 1.1 4.4-0.8 2.3 0.5 2.2-0.9 4.4 0.5 6.7-0.7 2.2 0.1 4.4 1 2.2-0.7 4.4 0.6 2.3-0.5 2.2-0.3 11.1 0.5 8.8-0.9 6.7 0.2 6.6 0.8 2.2-0.6 2.2 0 4.5 0.5 2.2-0.4 4.4 0.6 2.2-0.7 2.3 0.7 6.6-0.5 2.2 0.8 2.2-0.9 2.3 0.7 2.2-1.3 4.4-113.4 0 0.7-2.2 3.9-6.7 3-6.6 1.7-2.2 2.4-8.9 0.1-2.2-0.7-8.9-3-6.7-7.2-13.2-2.6-11.1 0.5-8.9 1.4-4.4 0.1-2.2 10-17.2 0.8-2.7 0.8-8.9 0-2.2-1-4.5-5-11-4.5-7.3-2.1-6-0.1-4.5-0.7-2.2 0.3-2.2-0.4-4.4 0.8-4.6 2.2-5.8z"/>
<path fill-rule="evenodd" fill="#a4c23a" d="M333.5 44.1l108.1 0 0.1 2.2-0.6 4.4 0.8 2.3 0.4 6.6-0.6 2.2 0.2 4.5-0.4 6.6 0.8 2.2-1.1 2.2 0.6 2.3-0.3 2.2 0.6 2.2-0.9 4.4 1 8.9-0.8 2.2-0.4 8.9 1.2 2.2-0.7 2.2 0.4 4.4-0.5 6.7 0.4 2.2-0.3 2.2 1 2.2-1 4.4 0.8 4.5 0 8.8-0.6 2.3 0.6 4.4-1 2.2 0.8 2.2-0.7 4.5 0.2 4.4-0.5 4.4 0.4 2.2-1 2.2 1.6 6.7-0.5 2.2 0.6 2.2-1 4.5 1.2 2.2-0.6 6.6 0.5 2.2-0.9 2.3 0.5 2.2-0.1 2.2-0.7 2.2-109.4 0 4-7.4 2.3-5.8 2.7-4.5 2.3-11.1-0.3-6.7-1.8-6.6-8.2-15.5-3.1-11.1 0.5-8.9 2.2-6.6 4.7-8.9 1.8-2.2 3.8-8.8 0.6-8.9-0.2-4.4-3.2-8.9-7.2-13.3-1.8-4.4-1-6.7 0.7-2.2-0.8-4.4 1-4.5 2.8-6.6z"/>
<path fill-rule="evenodd" fill="#b4c238" d="M335.7 44.1l103.2 0-0.3 8.9 0.4 2.2-0.7 6.6 0.7 2.2-0.6 2.3 0.8 4.4-1.1 2.2 0.9 6.7-0.5 4.4 0.6 2.2-1.2 2.2 1.3 4.4 0 2.3-1.1 8.8 0.6 4.5-1 2.2 1.3 8.8-1.4 2.3 1.1 2.2 1.3 6.6-1.3 2.2 0.1 4.5 0.7 2.2-1.2 2.2 0.1 2.2 1.1 2.2 0 2.2-0.7 2.3 0.5 4.4-0.9 2.2 0.9 2.2-0.5 2.2 0.1 4.5 1 2.2-1.4 4.4 0 6.7-0.4 2.2 0.5 4.4-0.9 4.4 1.5 4.5-1 2.2 0.3 4.4-0.8 2.2 1.9 4.5-1.3 4.4-104.8 0 3.7-6.6 6.4-15.6 1.1-11-2.9-11.1-1.6-3.5-3.5-5.4-2-4.4-1.2-4.4-1.3-2.3-0.9-8.8 0.7-2.2-0.4-2.3 2.4-4.4 3.4-8.8 3-4.5 3.6-8.8 0.7-4.5-0.2-8.8-0.6-2.3-2.1-4.4-1.6-5.5-3.3-5.6-0.5-2.2-1.7-2.2-3-8.9-0.2-2.2 0.6-2.2-0.8-5.1 1.6-6 2-4.4 0.8 0z"/>
<path fill-rule="evenodd" fill="#c4c43a" d="M338 44.1l96 0 0.6 2.2-1.6 4.4 2.3 4.5-2.5 4.4 1.6 2.2 0.5 2.2-0.8 2.3 1.2 2.2-0.8 2.2 0.6 2.2-2 2.2 2.1 4.5-0.9 4.4 0.4 2.2-1 2.2 1.8 2.2-0.3 2.2 0.6 2.3-3.7 2.2 1.2 0.4 1.2 1.8-1.1 2.2 0.7 4.4-0.6 2.3 0.7 4.4 0.9 2.2-1.5 4.4 0.4 2.3-1.3 2.2 1.1 2.2 0.3 2.2-1.5 8.9 1.8 2.2-1.1 2.2 1 2.2 0.4 2.2-0.8 2.2-0.1 2.3 1.1 2.2-0.8 2.2 0.1 2.2-1.2 2.2 0.6 2.2 1.4 2.3-0.7 2.2 1 2.2-1.9 2.2 1.2 2.2 0.1 2.2-1.4 1.2-2.6 1 0.4 1.7 2.2 0.3-0.8 4.7 0.8 1.5 1 0.7 0.2 6.7-1.3 2.2-0.4 4.4 1.6 2.2-1.3 2.2 0 2.3 1.2 2.2-0.8 2.2 2.2 2.2-99.7 0 0.6-2.2 8.9-20 0.7-11-0.3-2.3-1.3-2.2 0.1-2.2-1.3-4.4-3.2-6.7-3-4.4-3.2-8.9-0.6-6.6 0.3-6.7 2.3-4.4 3.3-8.8 1.4-2.3 1.6-4.4 3.2-6.6 0.7-6.7 0.1-4.4-0.9-4.5-3-6.6-0.4-2.2-1.8-4.6-3.7-6.5-1.6-6.6-1.8-2.3 0.3-4.4-0.3-4.4 1.7-6.7 2.1-4.4 1.1 0z"/>
<path fill-rule="evenodd" fill="#d4c43a" d="M338 46.3l0.9-2.2 88.1 0-0.4 1.1-2.7 3.3 2.9 4.5-0.6 2.2 1.2 4.4-1.4 2.2-1.8 4.5 2.8 2.2-0.3 2.2-1.7 2.2 1.8 2.2-2.5 4.5 1 2.2 0.6 4.4-0.9 4.4 0.6 2.2 2.5 2.3-1.5 2-0.9 0.2 0.9 2.2-0.6 2.2 0.6 2.2-0.1 2.2-0.8 2.3 0.9 2.7 0.1 1.7-0.6 2.2 2.3 2.2-1.2 4.5-2.3 2.2 1.7 0.6 1.3 1.6-2.3 2.2 0.5 2.2-1.6 4.4 0.6 4.5 1.3 2.2 0.3 2.2-1.5 2.2 1.4 0.7 1.1 1.5-2 4.5 0.2 2.2 1.8 2.2-1.7 2.2-0.5 4.5-1.4 2.2 4.8 3.6 0.1 0.8-1.7 2.2 0.4 2.2-0.9 4.5 0.5 2.2-1.4 6.6 2.1 2.2-1.4 2.3 0.9 2.2-0.9 2.8-2.2 1.6 2.2 0.9 0.7 1.3-0.5 2.2 0.7 2.3-1.1 2.2-1.1 4.4-88.1 0 9.8-22.2 0.8-6.6 0-6.7-0.7-2.2-2.3-6.6-3-6.7-3.8-6.4-2.9-11.3 0.3-6.6 0.9-4.5 2.2-4.4 2.6-6.6 3.6-6.7 2.3-6.6 0.8-6.7 0.1-4.4-1.6-6.7-1.3-2.2-0.5-2.2-3.8-8.9-3.6-6.6-0.5-4.4-1.1-2.3-0.6-4.4 0.2-4.4 0.8-2.2 0.6-4.5 1.5-2.2z"/>
<path fill-rule="evenodd" fill="#e0b838" d="M340.2 45l0.4-0.9 75.5 0-0.5 2.2 0.8 2.2 1.4 1 0.7 1.2-0.7 1.7-2.4 2.8-0.7 2.2 0.4 2.2 1.6 2.2 0.8 2.2-1.7 2.3-0.3 2.2 2.3-0.7 0.5 0.7-1.8 2.2-0.9 2.2 0 2.2 2.7 2.2 1.1 2.3-1.6 0.8-0.8 1.4 1.6 6.6-0.1 2.2-0.9 2.2 0.3 2.3 1.6 2.2-1 2.2 0.1 2.2 2.1 2.2-0.7 3.1-3.1 1.4-1.2 2.2 2.1 1.5 0.3 0.7-0.8 2.2 1.3 2.2-1.9 2.2 1.1 0.9 2.2 0.4 0.8 1-1.9 2.2-2.1 4.4 0.6 2.2-1.9 2.2 1.2 2.2 1.2 4.5-0.3 2.2-1.3 2.2 1.5 2.2 0.3 2.2-2.5 4.2-0.6 0.3 2.8 0.3 0.9 1.9-1.5 6.6 1.5 4.5-0.1 2.2-1.1 2.2 0 2.2 0.5 2.2 2.6 4.5-0.9 2.2 0.1 4.4-2.3 2.2 0.9 2.2-0.6 2.2-2.4 0.1 0.2 0.7 2.2-0.7 2.8 2.2-2.8 1.3-1 3.1 1.9 2.2 0.9 2.2-1.8 1.2-2.2 0.5-0.2 0.6 3 4.4-1.3 2.2-78.5 0 6.3-13.3 1.6-2.2 0.9-4.4 1-2.3 1.4-8.8-1-6.7-3.6-8.8-0.6-2.7-5.9-10.6-2.1-8.9 0.1-6.6 1.3-5.5 9.5-18.9 0.2-2.2 1.5-4.5 0.2-4.4 0.2-4.4-1.3-6.7-1.6-2.2-4.3-11.1-3.8-6.6-1.5-6.7-0.5-4.4 0.9-8.9 0.5-2.2 2.2-3.5zM415.3 148.2l1 0-0.7-0.3-0.3 0.3zM415 210.3l0.6 0.9 0.8-0.9-0.8-0.7-0.6 0.7zM420 83.9l-1.7 0.1 1.7-0.1z"/>
<path fill-rule="evenodd" fill="#e4ac34" d="M342.4 44.1l67 0-1.6 6.6 0.4 2.3-0.3 2.2 1.2 4.4 1.2 2.2-1.4 1.5-2 0.7 1.7 4.5 1.5 2.2 0.3 2.2-0.6 4.4 1.3 2.3 0.1 2.2 1.2 4.4-2 2.2 1.9 2.2-0.2 4.5 1.5 6.6-1.1 2.2-1 4.5 0.9 4.4-2.2 2.2-0.4 2.2-0.9 0.9-0.3 1.3-0.3 2.3 0.6 1.1 1.8 1.1-1 2.2 1.7 2.2-2.5 2.2-0.8 4.4 0.7 2.3-0.5 2.2 0.5 2.2-2 2.2 1.6 4.4-0.8 2.3 1.9 4.4-0.2 2.2 1.1 2.2-1.2 2.2 2 2.3 0.3 2.2-1 2.2 1.2 2.2-0.5 2.2 0.8 2.2 0.2 4.5-0.7 2.2 0.6 2.2 1.3 2.2-1.1 2.2 1.2 2.2-3.4 6.7 0.3 6.6-0.9 2.3-0.1 2.2-1.8 2.2 1.4 2.2-68.9 0 8-15.5 1-4.4 1.6-2.3 1-8.8-1.7-8.9-3.2-6.6-1.5-4.5-4.8-8.8-1.6-4.5 0-2.2-0.8-2.2-0.1-6.6 0.8-2.3 0.1-2.2 7.1-13.3 4.8-11 1-11.1-1.6-6.7-4.3-8.8-3.5-8.9-2.2-2.6-1.5-6.3-0.5-6.6 0.6-4.4 0.4-2.3 3.2-6.6zM411.1 121.2l0 1.2 0-1.2z"/>
<path fill-rule="evenodd" fill="#e6a834" d="M344.6 44.3l58.6-0.2 1.3 2.2-1.4 2.2-0.2 2.2-1.6 2.3 0.6 2.2-0.1 4.4 0.7 2.2-1 2.2 0.3 2.3 1.2 2.2 1.1 4.4-0.3 2.2 1.4 4.5 0.3 2.2-0.6 2.2 1.1 2.2 0.4 2.2-1.2 2.2 0.9 2.2 0.6 3.8 1.3 2.9-0.4 2.2-2.1 4.4 2.2 2.3-0.1 2.2-2.6 4.4 0.7 2.2-1.1 2.2 0.2 4.5-1.4 2.2 1.3 2.2-0.1 2.2-0.7 2.2-1.8 2.2 0.8 2.3-0.6 0.3-0.9 1.9 0.9 5.7 1.2 3.1-0.8 2.3 1.6 2.2 0.9 11.1 1.5 4.4-0.3 2.2 0.6 4.4 1.2 2.2-0.3 2.3 1.1 2.2-1.4 2.2 0.3 2.2-0.7 6.7-0.4 2.2-1.2 2.2 0.3 2.2-1.3 6.7 0.2 2.2-1.3 2.2-0.4 2.2-60.9 0 9.8-19.9 1.3-8.9-1.4-11.1-11.3-24.4 0.1-2.2-1.1-4.4 0-4.4 0.8-2.3-0.1-2.2 2-2.2 2.7-6.6 3.8-6.7 0.5-2.2 2.4-4.4 1.5-6.7 0.3-6.6-2.2-8.9-4.5-8.5-2.7-7-2.6-4.4-1.8-6.7 0-6.6 1.4-2.2 0.3-2.3 1.9-4.4 1.3-2z"/>
<path fill-rule="evenodd" fill="#e8a030" d="M346.8 44.1l52.8 0-0.4 2.2 0.6 2.2-1.9 4.5 0 4.4 0.5 2.2-0.7 4.4 1.4 2.3 0 2.2 1.1 2.2-0.9 2.2 0.1 2.2 1.4 2.2-0.2 2.3 0.7 2.2 0.1 2.2 2 4.4-0.8 2.2 1.4 4.5-0.2 2.2-0.9 2.2 0.4 2.2-0.6 4.4 0.5 2.3-0.9 5.9 0 6.4-2 3.2 0.3 4.4-2.3 2.2-0.8 8.9 0.1 4.4 1.1 4.4-1.4 2.3 0.5 1.1 1.5 1.1 0.7 1.6-0.1 5 2.3 2.2 0 4.5 1.6 2.2-1.1 6.6 1.3 2.2-1.3 2.3 1.1 8.8-0.4 4.5-1.5 6.6 0.3 2.2-0.7 2.2-1.8 2.3 0.5 4.4-1.3 2.2-54.3 0 0.3-2.2 2.1-4.4 4.3-6.7 0.3-2.2 1.9-3.6 0.8-9.7-0.8-11.8-2.1-5.9-2.8-4.5-4.5-8.8-2.7-11.1 0.2-4.4 1.7-4.5 1.3-2.2 2.2-6.6 2.9-4.5 1.6-4.4 2.2-4 0.8-7.1 0.2-6.6-1.3-8.9-6.8-13.3-1.8-5.4-2.2-4.3-0.8-3.6-0.2-4.4 0.5-2.2 1.4-2.2 1.8-6.7 1.2-2.2 0.5 0z"/>
<path fill-rule="evenodd" fill="#e89a34" d="M346.8 46.2l1.1-2.1 48.7 0-2.9 13.3 0.5 2.2-0.1 2.2 1.1 4.5 0.2 4.4 0.7 2.2-0.3 2.2 1.8 2.2 1 4.5-0.4 2.2 1.7 2.2 0 8.9 0.6 2.2 0.3 4.4-1.1 6.7 0.5 2.2-1.6 6.6 0 2.2-0.9 2.3 0.3 2.2-1.9 2.2 0.4 2.2-0.9 3.8-2.2 2.8 0.7 2.3 0.2 4.4-0.7 2.2 0.3 4.4 1.6 6.7 1.7 2.2 0.1 2.2 1.5 2.2 1.6 15.5 0.2 6.7-0.9 4.4 0.9 4.5-0.3 2.2-1.3 2.2-0.6 4.4-1.7 4.5-0.3 4.4-0.6 2.2-49.9 0 0.7-2.2 2.9-4.4 4.2-8.9 1.3-6.7 0.3-8.8-0.5-8.9-0.8-4.4-1.8-4.4-1.8-2.3-0.6-2.2-0.8-0.5-2.2-3.9-2.3-8.9 0.1-2.2-1.1-2.2 0.9-2.2 0-4.5 2.9-6.6 0.4-2.2 1.1-2.2 1.9-2.2 2.2-4.5 0.3-2.2 1.1-2.2 1.2-13.3-1-11.1-1-3.7-2.2-5.1-2.3-2.6-4-10.7-1.4-8.9 3.2-11.2z"/>
<path fill-rule="evenodd" fill="#e88a30" d="M349 44.8l0.8-0.7 42.7 0 0.1 2.2-2.3 4.4-0.4 4.5 1 2.2-0.6 2.2 0.6 2.2-0.7 2.2 0.7 2.3 0.4 6.6 2.5 4.4 0.6 4.5 1.2 1.9 0.8 4.7 1 2.2-0.4 2.2 0.7 4.5 0.4 8.8-0.9 4.5 0.2 2.2-2.9 4.4-0.3 4.5-1.3 4.4-1.9 2.2-1 4.4-1 2.2 0.9 6.7-1 6.6 2 4.5 1.7 2.2 0.7 2.2-0.6 2.2 2.4 4.5 0 2.2 1.8 4.4 1.5 6.6-0.2 6.7-0.8 2.2-0.5 4.4 0.4 2.3-1.2 4.4-1.2 2.2 0.6 2.2-1.2 2.2-0.9 0.6-2.5 6.1 1.1 2.2-44.4 0 3.7-4.4 3.9-11.1 0.8-6.7 0.2-8.8-0.6-11.1-1.5-6.6-1.4-2.3-0.3-2.2-3.7-4.4-1.9-5.1-0.9-8.2 0.5-2.2-0.4-2.2 0.4-2.3 1.2-2.2 1.4-6.1 1.8-2.7 2.4-2.2 1.7-4.5 1.4-17.7-0.6-11.1-1.5-6.6-0.7-2.4-2.2-4.2-2.3-2.3-0.4-2.2-1.9-4.4-1.2-8.9 1-2.2 1.8-8.9 0.7-1.5z"/>
<path fill-rule="evenodd" fill="#e87430" d="M351.3 45.8l1.7-1.7 35.7 0-0.4 2.2-1.2 2.2-0.4 4.5-1 2.2 0.1 4.4-1.1 2.2 2.9 4.5 0.1 4.4 1.3 2.2 0.1 2.2 2.5 4.5-0.5 2.2 0.1 2.6 3.2 6.2 0 4.5 0.7 2.2-0.1 6.6-0.3 2.2-1.2 2.3 0.7 2.2-3 4.9-0.9 3.9 0.5 2.3-1.2 2.2-0.1 2.2-1.6 2.2-0.4 2.2-1.2 2.2-0.3 4.5 0.7 2.2-1.2 2.2 1.7 6.6-1.4 2.3 1.7 2.2 3.7 9.5 0.8 6 2.3 4.4-0.9 2.2 2.2 1.3 0.3 0.9-0.3 1-1.9 1.3 0.8 2.2-0.7 4.4 0.3 2.2-0.3 4.5-2.5 4.4-0.6 4.4-0.8 2.2-1.4 6.7-2.4 2.2-36.2 0 3.5-4.4 1.1-2.2 1.1-4.5 0-2.2 0.8-2.2 0.7-11.1-0.2-13.3-1.3-8.8-1.5-4.5-3.1-4.4-2.2-6.7-0.8-4.4 0.7-8.9 3.5-8.8 2.3-2.2 1.4-4.5 1-11 0.1-13.3-1.3-15.2-6.7-13.3-1.4-7-0.2-2.2 1-4.4 2.9-7.2z"/>
<path fill-rule="evenodd" fill="#e05a1c" d="M355.7 44.1l29.5 0-4 11.1 0.3 2.2-0.6 4.4 1.2 2.2 0.1 2.3 1.6 4.4-0.5 2.2 3.8 6.7 0.4 2.2 1.3 2.2-0.3 2.2 1.5 4.4-0.3 2.2 1.3 2.3-0.6 4.4 1 2.2-0.9 2.2-0.5 6.7-1.6 4.4 0.2 2.2-1.9 3.4-1.4 1.1-1 2.2-0.7 6.6-2.1 6.7-0.3 2.2 0.5 2.2 1.2 2.2-1.5 2.2-0.1 2.2 1 1.2 1 3.3-0.1 2.2 1.7 2.2 1.6 6.7 2.7 4.4 0.9 6.6 1.6 4.5-0.1 2.2-1.5 4.4-1 8.9-1.4 2.2-0.1 2.2-1.8 6.7-1.5 2.2 0.7 2.2-2.3 2.2-28.9 0 0.3-2.2 2.7-4.4 0-6.7 1.2-8.9-0.1-17.7-0.8-8.8-2.2-6.7-0.8-4.4-2.2-4.5-0.2-2.2-1.4-2.2 0-2.2 0.5-4.4 1.3-2.3-0.1-2.2 1.7-2.2 2.9-6.6 1.1-11.1 0-24.4-0.5-8.8-2-4.5-0.2-2.2-1.3-2.2-0.5-2.2-1.4-2.2-0.4-4.5-1.5-2.2-0.1-2.2 0.6-2.2 1.7-2.2 0.1-2.3 3.2-4.4 0.3-2.2z"/>
<path fill-rule="evenodd" fill="#d83a22" d="M357.9 46.2l0.7-2.1 22.7 0-0.7 2.2-0.5 4.9-2.3 6.2 0.4 2.2-0.7 2.2 2.1 8.9-1 2.2 2.5 2.2 1.5 2.2-0.4 4.5 2.3 4.3 0.4 2.3 1.6 2.2 1.3 11.1-2.4 6.7 0.3 2.2-3.7 4.4 0.3 1.5 1.1 0.7-1.1 0.9-1 3.6-1.5 2.2-0.1 2.2-1.8 2.2 1.3 2.2-1 4.4-1.1 2.3 0.6 2.2-0.3 4.4 0.9 2.2 0.8 6.7-0.4 2.2 1.4 1.4 0.6 3 2.5 2.2 0.1 2.3 2.2 4.4 1.2 4.4-0.3 2.2 1.2 2.2-0.4 4.5 0.5 2.2-0.7 2.2 0.1 2.2-1.8 4.5 0.1 2.2-1.2 2.2 0.3 2.2-2.1 2.2-0.8 2.2 0.2 2.3-1.7 2.1-2.2 0.1 2.2 0.9 0.1 1.3-0.7 2.2-23.2 0 1.2-2.2 0.3-2.2 1.1-2.2-0.4-6.7 1.3-8.9-0.3-13.3 0.4-4.4-0.4-2.2 0.4-4.4-1.7-4.5-0.8-4.4 0.2-2.2-1.5-4.4 0.5-2.3-0.3-2.2-1.3-2.2 1-2.2-1.1-2.2 0.9-2.2-0.7-2.3 1.6-2.2 1-6.6 0.8-2.2-0.3-2.2 1-4.5 0.2-4.4-0.3-2.2 0.9-2.2-1.1-6.7 1-6.6-0.6-2.3-0.6-15.5-1.6-4.4-0.1-4.4-0.7-2.2 0.2-2.3-1.5-4.4-1.3-2.2 1.3-2.2 0.7-4.9 2.2-4.1zM384.5 114.5l0 1.7-0.8-1.2 0.8-0.5z"/>
</g>
<line x1="280.3" y1="141.3" x2="444.4" y2="141.3" stroke="#d30e12" stroke-width="2.4" stroke-dasharray="6.3 4.5" stroke-dashoffset="0"/>
<line x1="280.3" y1="182.3" x2="444.4" y2="182.3" stroke="#2a8a55" stroke-width="2.4" stroke-dasharray="6.3 4.5"/>
<text x="440.5" y="137.0" font-size="12" text-anchor="end" fill="#d30e12" font-weight="normal"><tspan font-style="italic">a</tspan>-axis</text>
<text x="440.5" y="178.2" font-size="12" text-anchor="end" fill="#2a8a55" font-weight="normal"><tspan font-style="italic">b</tspan>-axis</text>
<text x="441.8" y="60.9" font-size="12" text-anchor="end" fill="#fff" font-weight="normal">Experiment</text>
<rect x="280.5" y="46.5" width="164" height="164" fill="none" stroke="#222" stroke-width="1"/>
<text x="272.3" y="214.6" font-size="12" text-anchor="end" fill="#151515" font-weight="normal">0</text>
<line x1="277.8" y1="210.3" x2="280.3" y2="210.3" stroke="#222" stroke-width="1"/>
<text x="272.3" y="173.6" font-size="12" text-anchor="end" fill="#151515" font-weight="normal">90</text>
<line x1="277.8" y1="169.3" x2="280.3" y2="169.3" stroke="#222" stroke-width="1"/>
<text x="272.3" y="132.6" font-size="12" text-anchor="end" fill="#151515" font-weight="normal">180</text>
<line x1="277.8" y1="128.3" x2="280.3" y2="128.3" stroke="#222" stroke-width="1"/>
<text x="272.3" y="91.6" font-size="12" text-anchor="end" fill="#151515" font-weight="normal">270</text>
<line x1="277.8" y1="87.3" x2="280.3" y2="87.3" stroke="#222" stroke-width="1"/>
<text x="272.3" y="50.6" font-size="12" text-anchor="end" fill="#151515" font-weight="normal">360</text>
<line x1="277.8" y1="46.3" x2="280.3" y2="46.3" stroke="#222" stroke-width="1"/>
<line x1="298.5" y1="210.3" x2="298.5" y2="212.8" stroke="#222" stroke-width="1"/>
<line x1="335.0" y1="210.3" x2="335.0" y2="212.8" stroke="#222" stroke-width="1"/>
<line x1="371.5" y1="210.3" x2="371.5" y2="212.8" stroke="#222" stroke-width="1"/>
<line x1="407.9" y1="210.3" x2="407.9" y2="212.8" stroke="#222" stroke-width="1"/>
<line x1="444.4" y1="210.3" x2="444.4" y2="212.8" stroke="#222" stroke-width="1"/>
<text x="0" y="0" font-size="12" text-anchor="middle" fill="#151515" font-weight="normal" transform="translate(239.2,128.3) rotate(-90)">Polarization angle, <tspan font-style="italic">θ</tspan> (deg)</text>
<clipPath id="clipc"><rect x="280.3" y="251.3" width="164.1" height="163.1"/></clipPath>
<g clip-path="url(#clipc)">
<rect x="280.3" y="251.3" width="164.09999999999997" height="163.09999999999997" fill="#3c3488"/>
<path fill-rule="evenodd" fill="#3e4694" d="M280.3 250.3l165.1 0 0 165.1-166.1 0 0-165.1 1 0zM292 283.3l-2.4 2-1.7 5-1.4 9-0.2 9 1.3 10 1.7 5.8 2 2.3 3 0.6 2-0.5 2-1.1 3.2-4.1 1.1-4 0.9-6 0.2-10-0.9-8-1.5-5.2-2.2-2.8-2.8-1.9-2-0.4-2.3 0.3zM291 365.4l-1.1 1-1 2-2 9-0.6 8 0.3 8 1.4 8 1.7 5 1.6 1.6 4 0.4 3-1.5 1.5-1.5 1.5-2 1-2.9 1.4-10.1-0.2-10-1.2-7.8-1-2.9-1-1.4-2-2.2-3-1.5-3 0.2-1.3 0.6z"/>
<path fill-rule="evenodd" fill="#3f5ea0" d="M280.3 250.3l11 0.3 1.4-0.3 152.7 0 0 165.1-166.1 0 0-165.1 1 0zM290 278.3l-3.7 5.1-2.6 4.9-2 8-1 9 1.1 9 2.2 8 4.8 8 1.5 1.6 1 0.3 3-0.9 2-1.1 5.3-5.9 2.2-8 1.1-7 0.3-5-1.5-11-1.4-6-0.9-2-4.1-4.6-2-1.6-4-1.3-1.3 0.5zM289.5 360.4l-4.7 7-1.2 3-2 8-0.8 9 1.2 9 2.2 8 5 8 2.1 1.3 3-0.8 2-1.2 5.5-6.3 2.1-8 1.1-7 0.2-5-1.6-11-1.1-5-1.2-2.7-6-6-4-1.3-1.8 1z"/>
<path fill-rule="evenodd" fill="#4278b0" d="M298.3 250.3l147.1 0 0 165.1-148.4 0 5.7-9 4.2-13 1-7-1.1-7-4.3-13-5.2-8.3-4.2-5.7-1.4-3-0.7-3 0.6-4 1.4-3 4.3-5.9 5.6-9.2 3.9-12 1-6-0.6-7-4.5-14-5.4-8.8-4.5-6.2-1.7-5 0.1-3 1-3 6.1-9z"/>
<path fill-rule="evenodd" fill="#4a90b8" d="M300.3 250.7l0.3-0.4 144.8 0 0 165.1-145.9 0 9.3-19 1.6-5 0.6-5-0.4-4-1.5-5-9.8-20-2.1-6-0.8-4 0.1-4 1.2-5 1.6-4.2 9.7-19.9 1.5-5 0.5-4-0.5-5-1.6-5-9.6-19.5-2.5-7.5-0.5-4 0.4-4 2-6 1.6-3.6z"/>
<path fill-rule="evenodd" fill="#4aa0bc" d="M302.3 251l0.3-0.7 142.8 0 0 165.1-143.7 0 2.6-6.3 4-5.8 4-7.9 1.2-4 0.4-5-0.5-5-1.1-3.6-3.6-7.4-4.4-6.4-4.4-10.6-1-5 0.1-6 1.2-5 4.1-9.9 4.3-6.2 3.5-7 1.2-3.6 0.6-4.4-0.4-6-1.1-4-4-8-4.1-5.9-5-12.9-0.5-5.2 0.4-5 3.1-8.3z"/>
<path fill-rule="evenodd" fill="#5ab0bc" d="M304.3 250.8l0.3-0.5 140.8 0 0 165.1-141.7 0 2.6-4.9 3-4.2 4-6.9 2.4-7 0.9-6-0.7-5-2.3-7-3.9-7-5.4-8.2-2.7-7.8-0.7-4 0.4-6 2-6.5 2.7-5.6 3.6-5 3.7-6.5 2.6-7.5 0.6-5-0.7-6-2.4-7-9.1-14.7-3-8.9-0.4-4.4 0.3-4 3.1-9.5z"/>
<path fill-rule="evenodd" fill="#6cbab8" d="M307.3 251l0.4-0.7 137.7 0 0 165.1-138.8 0 6.7-11.2 4.5-8.8 1.5-4.1 0.6-4.9-0.5-4-1.1-3.5-5-10.1-7-11.8-2-5-0.8-4.6 0.1-4 1.1-5 2.2-5 6.4-10.7 4.7-9.4 1.3-3.6 0.5-4.4-0.3-4-1.2-4-5-10-6.6-11-2.7-7-0.6-5 0.4-4 1.1-4 2.4-5.3z"/>
<path fill-rule="evenodd" fill="#6cb8b0" d="M310.3 250.8l0.2-0.5 134.9 0 0 165.1-135.7 0 2.6-5.5 8-13.2 1.3-4.3 0.4-6-0.5-6-1.2-4-9.5-16-3.1-8-1-5 0.2-5 1.8-6 3-7.1 8.6-14 1-3 0.7-6-0.2-6-1.3-5-1.4-3-7.8-12.5-4.2-11.5-0.4-4 0.3-4 3.3-9.5z"/>
<path fill-rule="evenodd" fill="#72b8a0" d="M313.3 250.3l132.1 0 0 165.1-133.3 0 3.2-5.9 6-9.2 1.5-5.9 0.7-7-0.6-8-1.6-6.6-9-14.5-1.6-4.9-0.9-5 0.1-6 1.4-6.5 3.2-6.6 6.8-10.6 1.4-5.4 0.7-6-0.2-8-1.9-8-9-14.6-2.2-7.4-0.4-5 0.4-5 1.6-6 1.6-3z"/>
<path fill-rule="evenodd" fill="#76b890" d="M316.3 250.3l129.1 0 0 165.1-130.6 0 6.3-10 1.2-2.8 1.5-6.2 0.9-9-0.6-9-1.8-7.9-1-2.5-5-7.6-2.1-4-1.7-5-0.6-4 0.3-6 1.5-5 2.5-5.1 5.1-7.8 1-2.4 1.5-5.8 0.9-8-0.5-10-1.9-8.4-1-2.6-6.4-10-2.7-8-0.3-5 0.4-4.1 2.1-5.9 1.5-3 0.4 0z"/>
<path fill-rule="evenodd" fill="#78b870" d="M319.3 250.3l126.1 0 0 165.1-127.5 0 3.4-5.8 2-5 2.7-11.2 0.7-7-0.6-6-2.8-11.9-2-5-5-9.1-1.7-7 0.1-4 1.2-5 5.4-10.4 2-5 2.6-10.7 0.8-6-0.5-7-2.9-12.3-2-5-4.8-8.7-1.7-6-0.2-4 0.8-5 1.9-4.9 2-3.1z"/>
<path fill-rule="evenodd" fill="#74b450" d="M322.3 250.3l123.1 0 0 165.1-124.5 0 2.4-5.9 4.7-14.1 1.2-5 0.4-4-1.4-8-5.9-17.6-3.2-7.4-1.5-7 1.1-7 3.6-8.7 5.6-16.4 1.6-8-0.2-5-1.2-5-5.8-17.1-3.4-7.9-1.2-5 0-4 0.8-4 3.3-8 0.5 0z"/>
<path fill-rule="evenodd" fill="#72b84a" d="M324.3 250.3l121.1 0 0 165.1-122.2 0 2.1-6.8 5-11.3 1.6-5.9 0.5-5-0.4-4-1.5-6-5.2-11.9-3.7-12.1-1-5 0.1-4 0.8-4 3.8-12.3 5-11.4 2-9.4-0.2-5-1.4-6-5.4-12.4-4.5-15.6 0.1-7 2.9-10 0.5 0z"/>
<path fill-rule="evenodd" fill="#78b844" d="M326.3 250.3l119.1 0 0 165.1-120.3 0 6.2-14.7 2.5-8.3 0.6-6-1.1-7.7-3-9.3-5-11.1-1.5-5.9-0.6-5 0.3-6 1.5-7 6.3-15.2 2.2-6.9 0.9-6-0.1-4-1-5.2-3-9.2-4.8-10.6-2.1-9-0.2-4 0.3-5 1.8-7.7 0.5-1.3 0.5 0z"/>
<path fill-rule="evenodd" fill="#7cb840" d="M328.3 250.9l0.3-0.6 116.8 0 0 165.1-117.7 0 2.6-6.2 4.1-12.8 1.1-5 0.3-5-0.4-5-0.8-4-4.3-13.5-3.8-9.5-1.1-7 0.1-5 0.8-4.6 4-10.2 4-12.4 1-4.4 0.4-4.5-0.2-6-1-5-4.2-12.9-3.6-9.1-1.1-5-0.3-4 0.4-5 0.9-4 1.7-4.4z"/>
<path fill-rule="evenodd" fill="#8abc3e" d="M331.3 250.3l114.1 0 0 165.1-115.1 0 2-8.6 3.6-10.4 0.8-5 0.3-5-1-9-3.9-12-3.4-14-0.6-5 0.8-7 3.4-14.2 3.4-9.9 1.3-9-0.9-10-3.9-12-4-18 0.4-7 2.1-9 0.6 0z"/>
<path fill-rule="evenodd" fill="#90bd3e" d="M332.3 250.3l113.1 0 0 165.1-113.9 0 1.6-7 4.1-12 0.8-9-0.7-10.2-5-15.2-1.9-13.6 0.2-7 1.2-9.1 1.4-6 3.9-11 0.8-9-0.6-10.6-4.8-14.4-1.8-11-0.1-11 1.3-9 0.4 0z"/>
<path fill-rule="evenodd" fill="#98c03e" d="M333.3 250.3l110.3 0-0.4 17 1.3 39-1.3 41.1 1.3 39-1 29-111.1 0 1.3-5 3.6-9.1 1-6.1 0.4-7.8-0.2-8-0.8-6-4.5-12-1-5-0.6-7 0-8 0.7-7 1.2-5.1 3.8-9.6 1-6 0.4-6.4-0.2-9-0.7-6-0.8-3-3.7-9.1-1.5-8.9-0.1-13 0.9-7 0.2-1 0.5 0z"/>
<path fill-rule="evenodd" fill="#a4c23a" d="M334.3 250.3l107.6 0-0.4 18 1.4 25 0.2 13-1.7 41.1 1.8 39-1.4 29-108.4 0 0.9-3.1 3-6.6 0.9-3.3 0.9-7 0.3-8-0.3-9-0.8-7-1-4-3-6.6-1-3.4-1-9 0.1-7 0.7-6 1.2-4.7 3-6.5 0.8-2.9 0.8-6 0.5-9-0.3-9-0.8-7.5-1-4-3.6-8.5-1.2-7 0-12 0.8-5.7 0.7-2.3 0.3 0z"/>
<path fill-rule="evenodd" fill="#b4c238" d="M335.3 251l0.4-0.7 103.8 0-0.7 10 0 9 2.6 25.2 0.3 11.8-0.4 10-2.3 21.1-0.3 10 0.5 9 2.2 19.7 0.3 10.3-0.3 10.6-2.1 18.4-104.5 0 2.5-5.4 1.4-4.6 1.4-10 0.4-9-0.5-9-1.4-10-1.3-4.4-3-6.5-1.2-8.1 0.5-10 0.7-3.3 4-9.8 1.6-10 0.5-8-0.2-10-1.5-11-1.4-4.8-3-6.6-1-5.6 0-10.5 1-5.3 1-2.5z"/>
<path fill-rule="evenodd" fill="#c4c43a" d="M338.3 250.3l96.8 0-1.3 9-0.1 8 0.9 8 2.9 17 1 14-1.1 12.5-3.3 19.6-0.4 9 0.8 9 3 17 1 13-1.1 13.9-2.7 15.1-97.7 0 1.5-4 2-9 1.4-15-0.3-8-1.5-11-1.8-7.5-3.4-8.5-0.7-6 0.6-7 3.5-8.8 1.7-7.3 1.8-15-0.1-9-1.6-12-1.8-7.9-3.3-8.1-0.8-5 0.1-6 0.7-3 2.9-7 0.4 0z"/>
<path fill-rule="evenodd" fill="#d4c43a" d="M340.3 250.3l86.3 0-1.7 9-0.1 9 1.1 7 4.8 18 1 7 0.1 6-1.4 11.8-5 19.3-0.8 10 1.2 9 5 19 1 11-1.2 12-4.5 17-86.8 0 3.7-16 1-7 0.4-6-0.5-7-1.7-10-2.1-9-3.1-10-0.7-4 0.6-5 3.1-10.1 2.1-9 2.2-15-0.2-7-1.5-10-1.9-9-3.9-13-0.5-3 0.7-6 2.9-9 0.4 0z"/>
<path fill-rule="evenodd" fill="#e0b838" d="M343.3 250.3l74.3 0-1.9 9-0.2 8 1.4 8 5.1 20 0.9 6 0.1 5-1.1 9-5.8 23.1-0.7 9 1.2 8 5.5 22 0.9 9-1 10-4.9 19-74.9 0 5-21 0.8-8-0.7-7-4-16.2-2.4-11.8-0.6-5 0.7-7 6.1-26.1 0.9-7-0.8-9-3.9-15.6-2.9-15.4 0.5-8 1.7-8 0.7 0z"/>
<path fill-rule="evenodd" fill="#e4ac34" d="M345.3 250.8l0.2-0.5 65.2 0-1.6 10 0.1 9 2.2 11.8 3.5 13.2 0.8 6 0.2 6-1.1 10-5 20.1-0.8 11 1.4 11 4.6 18 0.9 10-1 11-4.6 18-65.3 0 4.5-18 1.2-11-0.8-9-4.7-19-1.4-10 0.1-6 0.7-6 4.8-20.1 1.3-11-0.9-10-4.3-17-1.5-9-0.1-9 1.4-9.5z"/>
<path fill-rule="evenodd" fill="#e6a834" d="M348.3 250.3l58.1 0-1.4 9 0 10 0.8 6 4.1 19 0.9 12-1.2 11-4.2 19.7-0.5 11.4 0.8 8 4.3 20 0.8 10-0.9 11-3.9 18-58.5 0 4.2-19 0.9-10-0.6-8-4.3-20-1.1-10 0.6-12 4.4-21.1 1-9-0.7-10-4.1-19-1.1-8 0.1-11 1.1-8 0.4 0z"/>
<path fill-rule="evenodd" fill="#e8a030" d="M350.3 250.3l52.6 0-1 10 0.1 10 1.1 9 3.3 17 0.6 9-0.7 9-3.9 21.1-0.6 13 1.1 11 3.6 19 0.5 8-0.6 9-3.8 20-53.1 0 3.7-18 0.9-11-0.8-9.6-3.7-18.4-1.1-11 0.6-11 4-20.1 0.9-10-0.6-11-3.7-18-1.1-9 0.2-11 1.1-7 0.4 0z"/>
<path fill-rule="evenodd" fill="#e89a34" d="M351.3 250.7l0.1-0.4 48.6 0-0.9 10 0.1 10 3.6 27 0.5 8-0.6 8-3.1 22.1-0.5 13 0.8 11 3 20 0.4 7-0.5 8-3.1 21-48.6 0 3.6-18 0.8-11-0.7-10-3.6-18-1.1-11 0.6-11 3.9-20.1 0.9-10-0.6-11-3.6-18-1-8-0.1-9 1.1-9.6z"/>
<path fill-rule="evenodd" fill="#e88a30" d="M353.3 250.3l43.8 0-0.8 10 0.1 9 3 26 0.5 10-0.5 9.5-2.7 21.6-0.4 11 0.7 11 2.4 19 0.5 9-0.5 10-2.5 19-44.3 0 3.5-17 0.8-11-0.6-11-4-20.1-0.8-8.9 0.5-10 4-20.1 0.9-11-0.6-12-4-19.6-0.7-6.4 0.2-10 0.8-6 0.4-2 0.3 0z"/>
<path fill-rule="evenodd" fill="#e87430" d="M355.3 250.3l38.5 0-1.2 9-0.2 8 3.5 24 0.8 15-1.1 15-2.9 18.1-0.3 8 0.6 7 2.9 19 0.8 13-0.8 14-2.4 15-39.2 0 3.5-18 0.9-10-0.6-10-4.2-22-0.8-8 0.5-9 4.1-22.1 1-10-0.7-11-4-21-0.8-7 0.3-10 1.3-7 0.5 0z"/>
<path fill-rule="evenodd" fill="#e05a1c" d="M357.3 250.3l31.7 0-2.1 9-0.3 7 0.9 6 4.9 20.5 0.8 6.5 0.2 7-1.1 11-5.2 22.1-0.6 7 0.7 6 5.2 21.9 1.1 12.1-1.1 12.3-3.9 16.7-32.3 0 3.9-18 1.1-10-0.7-9-4.1-20-1.4-11 0.8-11 4.2-20.1 1.2-10-0.6-9-4-19-1.5-11 0.5-11 1-6 0.7 0z"/>
<path fill-rule="evenodd" fill="#d83a22" d="M359.3 250.3l22.9 0-2.1 9 0 10 1.5 7 5.9 16 1.2 7 0.3 7-0.5 6-1.2 6-4.9 13.1-1.8 6-0.7 5 0 6 1.5 9 6 16 1.2 7 0.4 6-0.4 7-1.2 6.3-5.9 15.7-23.2 0 5.7-17 1.2-6 0.3-6-1.1-10-6.1-18.6-1.3-9.4 0.2-7 0.8-6 5.9-18.1 1-5 0.6-6-0.2-6-1-6-6-18-1-5.5-0.3-6.5 0.3-6 1-6.2 0.7-1.8 0.3 0z"/>
</g>
<line x1="280.3" y1="345.8" x2="444.4" y2="345.8" stroke="#d30e12" stroke-width="2.4" stroke-dasharray="6.3 4.5" stroke-dashoffset="0"/>
<line x1="280.3" y1="386.5" x2="444.4" y2="386.5" stroke="#2a8a55" stroke-width="2.4" stroke-dasharray="6.3 4.5"/>
<text x="440.5" y="341.5" font-size="12" text-anchor="end" fill="#d30e12" font-weight="normal"><tspan font-style="italic">a</tspan>-axis</text>
<text x="440.5" y="382.4" font-size="12" text-anchor="end" fill="#2a8a55" font-weight="normal"><tspan font-style="italic">b</tspan>-axis</text>
<text x="441.8" y="265.9" font-size="12" text-anchor="end" fill="#fff" font-weight="normal">Calculated</text>
<rect x="280.5" y="251.5" width="164" height="163" fill="none" stroke="#222" stroke-width="1"/>
<text x="272.3" y="418.7" font-size="12" text-anchor="end" fill="#151515" font-weight="normal">0</text>
<line x1="277.8" y1="414.4" x2="280.3" y2="414.4" stroke="#222" stroke-width="1"/>
<text x="272.3" y="377.9" font-size="12" text-anchor="end" fill="#151515" font-weight="normal">90</text>
<line x1="277.8" y1="373.6" x2="280.3" y2="373.6" stroke="#222" stroke-width="1"/>
<text x="272.3" y="337.2" font-size="12" text-anchor="end" fill="#151515" font-weight="normal">180</text>
<line x1="277.8" y1="332.9" x2="280.3" y2="332.9" stroke="#222" stroke-width="1"/>
<text x="272.3" y="296.4" font-size="12" text-anchor="end" fill="#151515" font-weight="normal">270</text>
<line x1="277.8" y1="292.1" x2="280.3" y2="292.1" stroke="#222" stroke-width="1"/>
<text x="272.3" y="255.6" font-size="12" text-anchor="end" fill="#151515" font-weight="normal">360</text>
<line x1="277.8" y1="251.3" x2="280.3" y2="251.3" stroke="#222" stroke-width="1"/>
<line x1="298.5" y1="414.4" x2="298.5" y2="416.9" stroke="#222" stroke-width="1"/>
<line x1="335.0" y1="414.4" x2="335.0" y2="416.9" stroke="#222" stroke-width="1"/>
<line x1="371.5" y1="414.4" x2="371.5" y2="416.9" stroke="#222" stroke-width="1"/>
<line x1="407.9" y1="414.4" x2="407.9" y2="416.9" stroke="#222" stroke-width="1"/>
<line x1="444.4" y1="414.4" x2="444.4" y2="416.9" stroke="#222" stroke-width="1"/>
<text x="0" y="0" font-size="12" text-anchor="middle" fill="#151515" font-weight="normal" transform="translate(239.2,332.9) rotate(-90)">Polarization angle, <tspan font-style="italic">θ</tspan> (deg)</text>
<text x="298.5" y="433.0" font-size="12" text-anchor="middle" fill="#151515" font-weight="normal">500</text>
<text x="335.0" y="433.0" font-size="12" text-anchor="middle" fill="#151515" font-weight="normal">600</text>
<text x="371.5" y="433.0" font-size="12" text-anchor="middle" fill="#151515" font-weight="normal">700</text>
<text x="407.9" y="433.0" font-size="12" text-anchor="middle" fill="#151515" font-weight="normal">800</text>
<text x="444.4" y="433.0" font-size="12" text-anchor="middle" fill="#151515" font-weight="normal">900</text>
<text x="362.3" y="450.5" font-size="12" text-anchor="middle" fill="#151515" font-weight="normal">Wavelength, <tspan font-style="italic">λ</tspan> (nm)</text>
<text x="466.0" y="13.2" font-size="18" text-anchor="start" fill="#111" font-weight="bold" style="letter-spacing:0">d</text>
<text x="596.7" y="16.5" font-size="12" text-anchor="middle" fill="#151515" font-weight="normal">Wavelength, <tspan font-style="italic">λ</tspan> (nm)</text>
<rect x="610.3" y="46.4" width="67.2" height="254.3" fill="#e5e5e5"/>
<text x="513.5" y="38.2" font-size="12" text-anchor="middle" fill="#151515" font-weight="normal">886</text>
<text x="513.5" y="432.2" font-size="12" text-anchor="middle" fill="#151515" font-weight="normal">1.4</text>
<line x1="513.5" y1="46.4" x2="513.5" y2="44.4" stroke="#222" stroke-width="1"/>
<line x1="513.5" y1="414.4" x2="513.5" y2="416.9" stroke="#222" stroke-width="1"/>
<text x="545.9" y="38.2" font-size="12" text-anchor="middle" fill="#151515" font-weight="normal">689</text>
<text x="545.9" y="432.2" font-size="12" text-anchor="middle" fill="#151515" font-weight="normal">1.8</text>
<line x1="545.9" y1="46.4" x2="545.9" y2="44.4" stroke="#222" stroke-width="1"/>
<line x1="545.9" y1="414.4" x2="545.9" y2="416.9" stroke="#222" stroke-width="1"/>
<text x="578.3" y="38.2" font-size="12" text-anchor="middle" fill="#151515" font-weight="normal">564</text>
<text x="578.3" y="432.2" font-size="12" text-anchor="middle" fill="#151515" font-weight="normal">2.2</text>
<line x1="578.3" y1="46.4" x2="578.3" y2="44.4" stroke="#222" stroke-width="1"/>
<line x1="578.3" y1="414.4" x2="578.3" y2="416.9" stroke="#222" stroke-width="1"/>
<text x="610.6" y="38.2" font-size="12" text-anchor="middle" fill="#151515" font-weight="normal">477</text>
<text x="610.6" y="432.2" font-size="12" text-anchor="middle" fill="#151515" font-weight="normal">2.6</text>
<line x1="610.6" y1="46.4" x2="610.6" y2="44.4" stroke="#222" stroke-width="1"/>
<line x1="610.6" y1="414.4" x2="610.6" y2="416.9" stroke="#222" stroke-width="1"/>
<text x="643.0" y="38.2" font-size="12" text-anchor="middle" fill="#151515" font-weight="normal">413</text>
<text x="643.0" y="432.2" font-size="12" text-anchor="middle" fill="#151515" font-weight="normal">3.0</text>
<line x1="643.0" y1="46.4" x2="643.0" y2="44.4" stroke="#222" stroke-width="1"/>
<line x1="643.0" y1="414.4" x2="643.0" y2="416.9" stroke="#222" stroke-width="1"/>
<text x="675.4" y="38.2" font-size="12" text-anchor="middle" fill="#151515" font-weight="normal">365</text>
<text x="675.4" y="432.2" font-size="12" text-anchor="middle" fill="#151515" font-weight="normal">3.4</text>
<line x1="675.4" y1="46.4" x2="675.4" y2="44.4" stroke="#222" stroke-width="1"/>
<line x1="675.4" y1="414.4" x2="675.4" y2="416.9" stroke="#222" stroke-width="1"/>
<text x="506.0" y="419.4" font-size="12" text-anchor="end" fill="#151515" font-weight="normal">2.0</text>
<line x1="510.9" y1="414.4" x2="513.4" y2="414.4" stroke="#222" stroke-width="1"/>
<text x="506.0" y="296.7" font-size="12" text-anchor="end" fill="#151515" font-weight="normal">2.5</text>
<line x1="510.9" y1="291.7" x2="513.4" y2="291.7" stroke="#222" stroke-width="1"/>
<text x="506.0" y="174.1" font-size="12" text-anchor="end" fill="#151515" font-weight="normal">3.0</text>
<line x1="510.9" y1="169.1" x2="513.4" y2="169.1" stroke="#222" stroke-width="1"/>
<text x="506.0" y="51.4" font-size="12" text-anchor="end" fill="#151515" font-weight="normal">3.5</text>
<line x1="510.9" y1="46.4" x2="513.4" y2="46.4" stroke="#222" stroke-width="1"/>
<text x="0" y="0" font-size="12" text-anchor="middle" fill="#151515" font-weight="normal" transform="translate(478.2,231) rotate(-90)">Refractive index, <tspan font-style="italic">n</tspan></text>
<text x="595.3" y="450.5" font-size="12" text-anchor="middle" fill="#151515" font-weight="normal">Photon energy, <tspan font-style="italic">E</tspan> (eV)</text>
<clipPath id="clipd"><rect x="513.4" y="46.4" width="164.1" height="368"/></clipPath>
<g clip-path="url(#clipd)">
<path d="M512.5,132.6 L514.0,131.6 L515.5,130.7 L517.0,129.7 L518.5,128.7 L520.0,127.7 L521.5,126.7 L523.0,125.6 L524.5,124.5 L526.0,123.4 L527.5,122.3 L529.0,121.1 L530.5,119.9 L532.0,118.7 L533.5,117.4 L535.0,116.1 L536.5,114.8 L538.0,113.4 L539.5,112.0 L541.0,110.5 L542.5,109.0 L544.0,107.4 L545.5,105.8 L547.0,104.2 L548.5,102.5 L550.0,100.7 L551.5,98.9 L553.0,97.0 L554.5,95.0 L556.0,93.0 L557.5,91.0 L559.0,88.8 L560.5,86.6 L562.0,84.4 L562.2,84.1" fill="none" stroke="#8cb9e0" stroke-width="2.2" stroke-linecap="round" stroke-linejoin="round"/>
<path d="M512.5,169.0 L514.0,167.8 L515.5,166.5 L517.0,165.2 L518.5,163.9 L520.0,162.6 L521.5,161.3 L523.0,160.0 L524.5,158.6 L526.0,157.3 L527.5,155.9 L529.0,154.5 L530.5,153.1 L532.0,151.7 L533.5,150.3 L535.0,148.8 L536.5,147.4 L538.0,145.9 L539.5,144.5 L541.0,143.0 L542.5,141.5 L544.0,139.9 L545.5,138.4 L547.0,136.9 L548.5,135.3 L550.0,133.8 L551.5,132.2 L553.0,130.6 L554.5,129.0 L556.0,127.4 L557.5,125.8 L559.0,124.1 L560.5,122.5 L562.0,120.8 L563.5,119.2 L565.0,117.5 L566.5,115.8 L568.0,114.1 L569.5,112.4 L571.0,110.6 L572.5,108.9 L574.0,107.1 L575.5,105.4 L577.0,103.6 L578.5,101.8 L580.0,100.0 L581.5,98.2 L583.0,96.4 L584.5,94.6 L586.0,92.7 L587.5,90.9 L589.0,89.0 L590.5,87.1 L592.0,85.3 L593.5,83.4 L595.0,81.5 L596.5,79.6 L598.0,77.6 L599.5,75.7 L601.0,73.7 L601.2,73.5" fill="none" stroke="#f26b1d" stroke-width="2.2" stroke-linecap="round" stroke-linejoin="round"/>
<path d="M512.5,282.3 L514.0,281.9 L515.5,281.4 L517.0,280.9 L518.5,280.5 L520.0,280.0 L521.5,279.5 L523.0,279.0 L524.5,278.4 L526.0,277.9 L527.5,277.3 L529.0,276.8 L530.5,276.2 L532.0,275.6 L533.5,275.0 L535.0,274.4 L536.5,273.8 L538.0,273.1 L539.5,272.4 L541.0,271.8 L542.5,271.1 L544.0,270.3 L545.5,269.6 L547.0,268.9 L548.5,268.1 L550.0,267.3 L551.5,266.5 L553.0,265.7 L554.5,264.8 L556.0,263.9 L557.5,263.1 L559.0,262.1 L560.5,261.2 L562.0,260.3 L563.5,259.3 L565.0,258.3 L566.5,257.3 L568.0,256.2 L569.5,255.1 L571.0,254.1 L572.5,252.9 L574.0,251.8 L575.5,250.6 L577.0,249.4 L578.5,248.2 L580.0,246.9 L581.5,245.7 L583.0,244.4 L584.5,243.0 L586.0,241.7 L587.5,240.3 L589.0,238.9 L590.5,237.4 L592.0,235.9 L593.5,234.4 L595.0,232.9 L596.5,231.3 L598.0,229.7 L599.5,228.1 L601.0,226.4 L602.5,224.7 L604.0,223.0 L605.5,221.2 L607.0,219.4 L608.5,217.6 L609.2,216.7" fill="none" stroke="#f9b26f" stroke-width="2.2" stroke-linecap="round" stroke-linejoin="round"/>
<path d="M512.5,364.0 L514.0,364.0 L515.5,363.9 L517.0,363.9 L518.5,363.9 L520.0,363.8 L521.5,363.8 L523.0,363.7 L524.5,363.7 L526.0,363.6 L527.5,363.6 L529.0,363.5 L530.5,363.5 L532.0,363.4 L533.5,363.3 L535.0,363.3 L536.5,363.2 L538.0,363.1 L539.5,363.0 L541.0,363.0 L542.5,362.9 L544.0,362.8 L545.5,362.7 L547.0,362.6 L548.5,362.5 L550.0,362.4 L551.5,362.3 L553.0,362.2 L554.5,362.1 L556.0,362.0 L557.5,361.8 L559.0,361.7 L560.5,361.6 L562.0,361.5 L563.5,361.3 L565.0,361.2 L566.5,361.0 L568.0,360.9 L569.5,360.7 L571.0,360.6 L572.5,360.4 L574.0,360.3 L575.5,360.1 L577.0,359.9 L578.5,359.7 L580.0,359.5 L581.5,359.4 L583.0,359.2 L584.5,359.0 L586.0,358.8 L587.5,358.6 L589.0,358.3 L590.5,358.1 L592.0,357.9 L593.5,357.7 L595.0,357.4 L596.5,357.2 L598.0,356.9 L599.5,356.7 L601.0,356.4 L602.5,356.2 L604.0,355.9 L605.5,355.6 L607.0,355.4 L608.5,355.1 L610.0,354.8 L611.5,354.5 L613.0,354.2 L614.5,353.9 L616.0,353.6 L617.5,353.2 L619.0,352.9 L620.5,352.6 L622.0,352.2 L623.5,351.9 L625.0,351.5 L626.5,351.2 L628.0,350.8 L629.5,350.4 L631.0,350.1 L632.5,349.7 L634.0,349.3 L635.5,348.9 L637.0,348.5 L638.5,348.0 L640.0,347.6 L641.5,347.2 L643.0,346.8 L644.5,346.3 L646.0,345.9 L647.5,345.4 L649.0,344.9 L650.5,344.5 L652.0,344.0 L653.5,343.5 L655.0,343.0 L656.5,342.5 L658.0,342.0 L659.5,341.5 L661.0,340.9 L662.5,340.4 L664.0,339.9 L665.5,339.3 L667.0,338.8 L668.5,338.2 L670.0,337.6 L671.5,337.0 L673.0,336.4 L674.5,335.8 L676.0,335.2 L677.5,334.6 L679.0,334.0" fill="none" stroke="#6e6e6e" stroke-width="2.2" stroke-linecap="round" stroke-linejoin="round"/>
<path d="M512.5,353.7 L514.0,353.5 L515.5,353.3 L517.0,353.0 L518.5,352.8 L520.0,352.5 L521.5,352.2 L523.0,352.0 L524.5,351.7 L526.0,351.4 L527.5,351.1 L529.0,350.8 L530.5,350.5 L532.0,350.2 L533.5,349.9 L535.0,349.6 L536.5,349.3 L538.0,348.9 L539.5,348.6 L541.0,348.2 L542.5,347.9 L544.0,347.5 L545.5,347.2 L547.0,346.8 L548.5,346.4 L550.0,346.1 L551.5,345.7 L553.0,345.3 L554.5,344.9 L556.0,344.5 L557.5,344.1 L559.0,343.7 L560.5,343.2 L562.0,342.8 L563.5,342.4 L565.0,341.9 L566.5,341.5 L568.0,341.0 L569.5,340.6 L571.0,340.1 L572.5,339.7 L574.0,339.2 L575.5,338.7 L577.0,338.2 L578.5,337.7 L580.0,337.2 L581.5,336.7 L583.0,336.2 L584.5,335.7 L586.0,335.1 L587.5,334.6 L589.0,334.1 L590.5,333.5 L592.0,333.0 L593.5,332.4 L595.0,331.8 L596.5,331.3 L598.0,330.7 L599.5,330.1 L601.0,329.5 L602.5,328.9 L604.0,328.3 L605.5,327.7 L607.0,327.1 L608.5,326.5 L610.0,325.8 L611.5,325.2 L613.0,324.6 L614.5,323.9 L616.0,323.3 L617.5,322.6 L619.0,321.9 L620.5,321.3 L622.0,320.6 L623.5,319.9 L625.0,319.2 L626.5,318.5 L628.0,317.8 L629.5,317.1 L631.0,316.4 L632.5,315.6 L634.0,314.9 L635.5,314.2 L637.0,313.4 L638.5,312.7 L640.0,311.9 L641.5,311.1 L643.0,310.4 L644.5,309.6 L646.0,308.8 L647.5,308.0 L649.0,307.2 L650.5,306.4 L651.2,306.0" fill="none" stroke="#b38a52" stroke-width="2.2" stroke-linecap="round" stroke-linejoin="round"/>
<path d="M512.5,366.0 L514.0,365.8 L515.5,365.7 L517.0,365.5 L518.5,365.3 L520.0,365.1 L521.5,364.8 L523.0,364.6 L524.5,364.3 L526.0,364.0 L527.5,363.7 L529.0,363.3 L530.5,363.0 L532.0,362.7 L533.5,362.3 L535.0,361.9 L536.5,361.5 L538.0,361.1 L539.5,360.7 L541.0,360.3 L542.5,359.8 L544.0,359.4 L545.5,358.9 L547.0,358.4 L548.5,358.0 L550.0,357.5 L551.5,357.0 L553.0,356.5 L554.5,355.9 L556.0,355.4 L557.5,354.9 L559.0,354.3 L560.5,353.8 L562.0,353.2 L563.5,352.7 L565.0,352.1 L566.5,351.5 L568.0,350.9 L569.5,350.3 L571.0,349.7 L572.5,349.1 L574.0,348.4 L575.5,347.8 L577.0,347.2 L578.5,346.5 L580.0,345.9 L581.5,345.2 L583.0,344.5 L584.5,343.8 L586.0,343.1 L587.5,342.4 L589.0,341.7 L590.5,341.0 L592.0,340.2 L593.5,339.5 L595.0,338.7 L596.5,337.9 L598.0,337.1 L599.5,336.3 L601.0,335.5 L602.5,334.7 L604.0,333.8 L605.5,333.0 L607.0,332.1 L608.5,331.2 L610.0,330.3 L611.5,329.4 L613.0,328.4 L614.5,327.5 L616.0,326.5 L617.5,325.5 L619.0,324.4 L620.5,323.4 L622.0,322.3 L623.5,321.2 L625.0,320.1 L626.5,319.0 L628.0,317.8 L629.5,316.6 L631.0,315.4 L632.5,314.2 L634.0,312.9 L635.5,311.6 L637.0,310.3 L638.5,308.9 L640.0,307.5 L641.5,306.0 L643.0,304.6 L644.5,303.1 L646.0,301.5 L647.5,299.9 L649.0,298.3 L650.5,296.7 L652.0,295.0 L653.5,293.2 L655.0,291.4 L656.5,289.6 L658.0,287.7 L659.5,285.8 L661.0,283.8 L662.5,281.7 L664.0,279.7 L665.5,277.5 L667.0,275.3 L668.5,273.1 L668.8,272.6" fill="none" stroke="#2f7ae0" stroke-width="2.2" stroke-linecap="round" stroke-linejoin="round"/>
<path d="M512.5,329.3 L514.0,329.0 L515.5,328.7 L517.0,328.4 L518.5,328.1 L520.0,327.8 L521.5,327.5 L523.0,327.2 L524.5,326.9 L526.0,326.6 L527.5,326.3 L529.0,325.9 L530.5,325.6 L532.0,325.3 L533.5,324.9 L535.0,324.6 L536.5,324.2 L538.0,323.9 L539.5,323.5 L541.0,323.1 L542.5,322.8 L544.0,322.4 L545.5,322.0 L547.0,321.6 L548.5,321.2 L550.0,320.8 L551.5,320.4 L553.0,320.0 L554.5,319.5 L556.0,319.1 L557.5,318.7 L559.0,318.2 L560.5,317.8 L562.0,317.3 L563.5,316.9 L565.0,316.4 L566.5,315.9 L568.0,315.4 L569.5,314.9 L571.0,314.5 L572.5,313.9 L574.0,313.4 L575.5,312.9 L577.0,312.4 L578.5,311.9 L580.0,311.3 L581.5,310.8 L583.0,310.2 L584.5,309.6 L586.0,309.1 L587.5,308.5 L589.0,307.9 L590.5,307.3 L592.0,306.7 L593.5,306.1 L595.0,305.4 L596.5,304.8 L598.0,304.2 L599.5,303.5 L601.0,302.9 L602.5,302.2 L604.0,301.5 L605.5,300.8 L607.0,300.1 L608.5,299.4 L610.0,298.7 L611.5,298.0 L613.0,297.2 L614.5,296.5 L616.0,295.7 L617.5,294.9 L619.0,294.1 L620.5,293.2 L622.0,292.3 L623.5,291.5 L625.0,290.5 L626.5,289.6 L628.0,288.6 L629.5,287.6 L631.0,286.6 L632.5,285.5 L634.0,284.4 L635.5,283.2 L637.0,282.1 L638.5,280.9 L640.0,279.6 L641.5,278.3 L643.0,277.0 L644.5,275.6 L646.0,274.2 L647.5,272.7 L649.0,271.2 L650.5,269.6 L652.0,268.0 L653.5,266.3 L655.0,264.5 L656.5,262.8 L658.0,260.9 L659.5,259.0 L661.0,257.0 L662.5,254.9 L664.0,252.8 L665.5,250.6 L667.0,248.3 L668.5,246.0 L670.0,243.6 L671.5,241.1 L673.0,238.5 L674.5,235.8 L676.0,233.0 L677.5,230.2 L679.0,227.2" fill="none" stroke="#e8484f" stroke-width="2.2" stroke-linecap="round" stroke-linejoin="round"/>
<path d="M512.5,382.7 L514.0,381.8 L515.5,381.0 L517.0,380.2 L518.5,379.4 L520.0,378.6 L521.5,377.8 L523.0,377.0 L524.5,376.1 L526.0,375.3 L527.5,374.5 L529.0,373.6 L530.5,372.8 L532.0,371.9 L533.5,371.0 L535.0,370.0 L536.5,369.0 L538.0,368.0 L539.5,367.0 L541.0,365.9 L542.5,364.8 L544.0,363.6 L545.5,362.4 L547.0,361.1 L548.5,359.8 L550.0,358.4 L551.5,356.9 L553.0,355.4 L554.5,353.8 L556.0,352.2 L557.5,350.4 L559.0,348.6 L560.5,346.8 L562.0,344.8 L563.5,342.7 L565.0,340.6 L566.5,338.4 L568.0,336.0 L569.5,333.6 L571.0,331.1 L572.5,328.4 L574.0,325.7 L575.5,322.8 L577.0,319.9 L578.5,316.8 L580.0,313.6 L581.5,310.2 L583.0,306.8 L584.5,303.2 L585.2,301.5" fill="none" stroke="#43ad6e" stroke-width="2.2" stroke-linecap="round" stroke-linejoin="round"/>
</g>
<rect x="513.5" y="46.5" width="164" height="368" fill="none" stroke="#222" stroke-width="1"/>
<text x="539.3" y="79.6" font-size="10.8" text-anchor="start" fill="#8cb9e0" font-weight="normal" style="letter-spacing:0">GaP</text>
<text x="579.4" y="66.4" font-size="10.8" text-anchor="start" fill="#f26b1d" font-weight="normal" style="letter-spacing:0">As<tspan font-size="6.9" dy="3.2">2</tspan><tspan dy="-3.2">&#8203;</tspan>S<tspan font-size="6.9" dy="3.2">3</tspan><tspan dy="-3.2">&#8203;</tspan></text>
<text x="576.6" y="210.8" font-size="10.8" text-anchor="start" fill="#f9b26f" font-weight="normal" style="letter-spacing:0">InGaS<tspan font-size="6.9" dy="3.2">3</tspan><tspan dy="-3.2">&#8203;</tspan></text>
<text x="642.7" y="238.5" font-size="10.8" text-anchor="start" fill="#dd3c42" font-weight="normal" style="letter-spacing:0">GeS<tspan font-size="6.9" dy="3.2">2</tspan><tspan dy="-3.2">&#8203;</tspan></text>
<text x="561.0" y="294.8" font-size="10.8" text-anchor="start" fill="#43ad6e" font-weight="normal" style="letter-spacing:0">CsPbBr<tspan font-size="6.9" dy="3.2">3</tspan><tspan dy="-3.2">&#8203;</tspan></text>
<text x="639.6" y="324.6" font-size="10.8" text-anchor="start" fill="#a7803f" font-weight="normal" style="letter-spacing:0">LiNbO<tspan font-size="6.9" dy="3.2">3</tspan><tspan dy="-3.2">&#8203;</tspan></text>
<text x="612.7" y="342.9" font-size="10.8" text-anchor="start" fill="#2f7ae0" font-weight="normal" style="letter-spacing:0">TiO<tspan font-size="6.9" dy="3.2">2</tspan><tspan dy="-3.2">&#8203;</tspan></text>
<text x="646.4" y="360.1" font-size="10.8" text-anchor="start" fill="#5f5f5f" font-weight="normal" style="letter-spacing:0">hBN</text>
</svg></body></html>
